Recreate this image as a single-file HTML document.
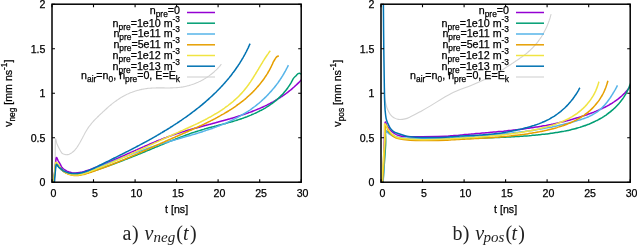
<!DOCTYPE html>
<html><head><meta charset="utf-8"><title>v_neg and v_pos</title>
<style>
html,body{margin:0;padding:0;background:#fff;}
body{width:637px;height:245px;overflow:hidden;}
svg{display:block;}
.tk{font-family:"Liberation Sans",Arial,sans-serif;font-size:10.6px;fill:#000;stroke:#000;stroke-width:0.25px;}
.lg{font-family:"Liberation Sans",Arial,sans-serif;font-size:10.7px;fill:#000;stroke:#000;stroke-width:0.25px;}
.sb{font-size:8.4px;}
.cap{font-family:"Liberation Serif","Times New Roman",serif;font-size:20px;fill:#222;}
.mi{font-style:italic;}
.mis{font-style:italic;font-size:15px;}
</style></head><body>
<svg width="637" height="245" viewBox="0 0 637 245">
<defs><clipPath id="cl"><rect x="52.0" y="4.2" width="249.2" height="178.0"/></clipPath>
<clipPath id="cr"><rect x="381.0" y="4.2" width="249.2" height="178.0"/></clipPath></defs>
<path d="M55.0,182.0 C55.0,178.3 55.1,167.1 55.2,160.0 C55.3,152.9 55.1,142.2 55.4,139.5 C55.7,136.8 56.3,142.4 57.0,144.0 C57.7,145.6 58.6,147.5 59.4,149.0 C60.2,150.5 61.2,152.2 61.9,153.1 C62.5,153.9 62.9,153.7 63.4,154.0 C63.9,154.2 64.4,154.4 64.9,154.5 C65.4,154.6 65.8,154.7 66.3,154.7 C66.8,154.7 67.3,154.6 67.7,154.6 C68.2,154.5 68.6,154.3 69.1,154.2 C69.5,154.0 70.0,153.8 70.4,153.6 C70.8,153.4 71.2,153.1 71.6,152.9 C72.0,152.6 72.4,152.3 72.8,152.0 C73.2,151.7 73.5,151.3 73.9,151.0 C74.3,150.7 74.6,150.3 75.0,149.9 C75.3,149.5 75.6,149.1 76.0,148.7 C76.3,148.3 76.6,147.9 76.9,147.5 C77.2,147.0 77.5,146.6 77.8,146.1 C78.1,145.7 78.4,145.2 78.7,144.7 C79.0,144.3 79.3,143.8 79.6,143.3 C79.8,142.8 80.1,142.3 80.4,141.8 C80.7,141.3 80.9,140.8 81.2,140.3 C81.5,139.8 81.7,139.3 82.0,138.8 C82.3,138.2 82.5,137.7 82.8,137.2 C83.0,136.7 83.3,136.2 83.6,135.7 C83.8,135.2 84.1,134.7 84.4,134.2 C84.6,133.7 84.9,133.2 85.2,132.7 C85.5,132.2 85.7,131.7 86.0,131.3 C86.3,130.8 86.6,130.3 86.8,129.9 C87.1,129.4 87.4,129.0 87.7,128.5 C88.0,128.1 88.3,127.6 88.6,127.2 C88.9,126.8 89.2,126.4 89.5,126.0 C89.8,125.6 90.1,125.2 90.5,124.8 C90.8,124.4 91.1,124.0 91.4,123.6 C91.7,123.2 92.1,122.8 92.4,122.4 C92.7,122.1 93.0,121.7 93.4,121.3 C93.7,120.9 94.1,120.6 94.4,120.2 C94.7,119.9 95.1,119.5 95.4,119.1 C95.8,118.8 96.1,118.4 96.5,118.1 C96.8,117.7 97.2,117.4 97.5,117.0 C97.9,116.7 98.3,116.3 98.6,116.0 C99.0,115.6 99.4,115.3 99.7,114.9 C100.1,114.6 100.5,114.2 100.8,113.9 C101.2,113.5 101.6,113.2 102.0,112.8 C102.3,112.5 102.7,112.1 103.1,111.7 C103.5,111.4 103.9,111.0 104.3,110.7 C104.6,110.3 105.0,110.0 105.4,109.6 C105.8,109.3 106.2,108.9 106.6,108.5 C107.0,108.2 107.4,107.8 107.8,107.5 C108.2,107.1 108.6,106.8 109.0,106.4 C109.4,106.1 109.8,105.7 110.2,105.4 C110.7,105.1 111.1,104.7 111.5,104.4 C111.9,104.0 112.3,103.7 112.7,103.4 C113.2,103.0 113.6,102.7 114.0,102.4 C114.4,102.1 114.9,101.7 115.3,101.4 C115.7,101.1 116.2,100.8 116.6,100.5 C117.0,100.2 117.5,99.9 117.9,99.6 C118.4,99.3 118.8,99.0 119.2,98.7 C119.7,98.4 120.1,98.1 120.6,97.8 C121.0,97.5 121.5,97.3 122.0,97.0 C122.4,96.7 122.9,96.5 123.3,96.2 C123.8,96.0 124.3,95.7 124.7,95.5 C125.2,95.2 125.7,95.0 126.1,94.8 C126.6,94.5 127.1,94.3 127.6,94.1 C128.0,93.9 128.5,93.6 129.0,93.4 C129.5,93.2 129.9,93.0 130.4,92.8 C130.9,92.6 131.4,92.4 131.9,92.3 C132.4,92.1 132.9,91.9 133.3,91.7 C133.8,91.5 134.3,91.4 134.8,91.2 C135.3,91.1 135.8,90.9 136.3,90.7 C136.8,90.6 137.3,90.5 137.8,90.3 C138.3,90.2 138.8,90.1 139.3,89.9 C139.8,89.8 140.3,89.7 140.8,89.6 C141.3,89.5 141.8,89.3 142.3,89.2 C142.9,89.1 143.4,89.1 143.9,89.0 C144.4,88.9 144.9,88.8 145.4,88.7 C145.9,88.6 146.4,88.6 147.0,88.5 C147.5,88.4 148.0,88.4 148.5,88.3 C149.0,88.3 149.5,88.2 150.1,88.2 C150.6,88.2 151.1,88.1 151.6,88.1 C152.1,88.1 152.7,88.0 153.2,88.0 C153.7,88.0 154.2,88.0 154.7,88.0 C155.3,88.0 155.8,87.9 156.3,87.9 C156.8,87.9 157.4,87.9 157.9,87.9 C158.4,87.9 158.9,87.9 159.5,87.9 C160.0,87.9 160.5,87.9 161.0,87.9 C161.6,87.9 162.1,87.9 162.6,87.9 C163.1,87.9 163.7,87.9 164.2,87.9 C164.7,87.9 165.2,88.0 165.8,88.0 C166.3,88.0 166.8,88.0 167.3,88.0 C167.9,88.0 168.4,88.0 168.9,88.0 C169.5,88.0 170.0,87.9 170.5,87.9 C171.0,87.9 171.6,87.9 172.1,87.9 C172.6,87.9 173.1,87.9 173.7,87.8 C174.2,87.8 174.7,87.8 175.2,87.8 C175.8,87.7 176.3,87.7 176.8,87.6 C177.3,87.6 177.9,87.6 178.4,87.5 C178.9,87.5 179.4,87.4 179.9,87.3 C180.5,87.3 181.0,87.2 181.5,87.1 C182.0,87.0 182.5,86.9 183.1,86.9 C183.6,86.8 184.1,86.7 184.6,86.6 C185.1,86.4 185.7,86.3 186.2,86.2 C186.7,86.1 187.2,86.0 187.7,85.8 C188.2,85.7 188.7,85.6 189.2,85.4 C189.7,85.3 190.2,85.1 190.7,85.0 C191.3,84.8 191.8,84.6 192.3,84.5 C192.8,84.3 193.3,84.1 193.7,84.0 C194.2,83.8 194.7,83.6 195.2,83.4 C195.7,83.2 196.2,83.0 196.7,82.8 C197.2,82.6 197.7,82.4 198.1,82.2 C198.6,81.9 199.1,81.7 199.6,81.5 C200.1,81.3 200.5,81.0 201.0,80.8 C201.5,80.5 201.9,80.3 202.4,80.0 C202.9,79.8 203.3,79.5 203.8,79.3 C204.2,79.0 204.7,78.7 205.1,78.5 C205.6,78.2 206.0,77.9 206.5,77.6 C206.9,77.4 207.4,77.1 207.8,76.8 C208.2,76.5 208.7,76.2 209.1,75.9 C209.5,75.6 209.9,75.3 210.3,74.9 C210.8,74.6 211.2,74.3 211.6,74.0 C212.0,73.7 212.4,73.3 212.8,73.0 C213.2,72.7 213.6,72.3 214.0,72.0 C214.4,71.6 214.7,71.3 215.1,70.9 C215.5,70.6 215.9,70.2 216.3,69.9 C216.6,69.5 217.0,69.1 217.3,68.8 C217.7,68.4 218.1,68.0 218.4,67.6 C218.8,67.2 219.1,66.9 219.4,66.5 C219.8,66.1 220.1,65.7 220.4,65.3 C220.7,64.9 221.2,64.3 221.4,64.1" stroke="#d2d2d2" stroke-width="1.1" fill="none" stroke-linejoin="round" clip-path="url(#cl)"/>
<path d="M53.6,182.0 C53.9,179.3 54.8,170.1 55.3,166.0 C55.8,161.9 55.8,158.5 56.3,157.6 C56.8,156.7 57.5,159.5 58.1,160.6 C58.8,161.7 59.5,163.0 60.2,164.2 C60.9,165.4 61.5,166.8 62.0,167.6 C62.6,168.3 63.1,168.5 63.6,169.0 C64.2,169.4 64.7,169.8 65.3,170.1 C65.8,170.5 66.4,170.8 66.9,171.1 C67.5,171.3 68.0,171.6 68.6,171.8 C69.2,172.0 69.7,172.2 70.3,172.3 C70.9,172.5 71.5,172.6 72.0,172.7 C72.6,172.8 73.2,172.9 73.8,172.9 C74.4,172.9 75.0,172.9 75.6,172.9 C76.1,172.9 76.7,172.9 77.3,172.8 C77.9,172.8 78.5,172.7 79.1,172.6 C79.7,172.5 80.3,172.4 80.9,172.3 C81.5,172.2 82.1,172.1 82.7,171.9 C83.3,171.7 83.9,171.6 84.5,171.4 C85.2,171.2 85.8,171.0 86.4,170.8 C87.0,170.6 87.6,170.4 88.2,170.2 C88.8,170.0 89.4,169.8 90.0,169.6 C90.6,169.4 91.2,169.1 91.8,168.9 C92.4,168.7 93.0,168.5 93.6,168.2 C94.2,168.0 94.8,167.8 95.4,167.5 C96.0,167.3 96.6,167.1 97.2,166.9 C97.8,166.6 98.4,166.4 99.0,166.1 C99.5,165.9 100.1,165.7 100.7,165.4 C101.3,165.2 101.9,165.0 102.5,164.7 C103.1,164.5 103.7,164.2 104.3,164.0 C104.8,163.7 105.4,163.5 106.0,163.3 C106.6,163.0 107.2,162.8 107.8,162.5 C108.4,162.3 108.9,162.0 109.5,161.8 C110.1,161.5 110.7,161.3 111.3,161.0 C111.8,160.8 112.4,160.5 113.0,160.3 C113.6,160.0 114.2,159.8 114.7,159.5 C115.3,159.3 115.9,159.0 116.5,158.8 C117.0,158.5 117.6,158.3 118.2,158.0 C118.8,157.8 119.3,157.5 119.9,157.3 C120.5,157.0 121.1,156.7 121.6,156.5 C122.2,156.2 122.8,156.0 123.4,155.7 C123.9,155.5 124.5,155.2 125.1,155.0 C125.7,154.7 126.2,154.4 126.8,154.2 C127.4,153.9 127.9,153.7 128.5,153.4 C129.1,153.2 129.7,152.9 130.2,152.7 C130.8,152.4 131.4,152.1 131.9,151.9 C132.5,151.6 133.1,151.4 133.7,151.1 C134.2,150.9 134.8,150.6 135.4,150.4 C135.9,150.1 136.5,149.8 137.1,149.6 C137.6,149.3 138.2,149.1 138.8,148.8 C139.4,148.6 139.9,148.3 140.5,148.1 C141.1,147.8 141.6,147.6 142.2,147.3 C142.8,147.1 143.4,146.8 143.9,146.6 C144.5,146.3 145.1,146.1 145.6,145.8 C146.2,145.6 146.8,145.3 147.4,145.1 C147.9,144.8 148.5,144.6 149.1,144.3 C149.7,144.1 150.2,143.9 150.8,143.6 C151.4,143.4 151.9,143.1 152.5,142.9 C153.1,142.7 153.7,142.4 154.2,142.2 C154.8,141.9 155.4,141.7 156.0,141.5 C156.6,141.2 157.1,141.0 157.7,140.8 C158.3,140.5 158.9,140.3 159.4,140.1 C160.0,139.8 160.6,139.6 161.2,139.4 C161.8,139.2 162.3,138.9 162.9,138.7 C163.5,138.5 164.1,138.3 164.7,138.0 C165.3,137.8 165.8,137.6 166.4,137.4 C167.0,137.2 167.6,136.9 168.2,136.7 C168.8,136.5 169.4,136.3 169.9,136.1 C170.5,135.9 171.1,135.7 171.7,135.5 C172.3,135.2 172.9,135.0 173.5,134.8 C174.1,134.6 174.7,134.4 175.3,134.2 C175.9,134.0 176.4,133.8 177.0,133.6 C177.6,133.4 178.2,133.2 178.8,133.1 C179.4,132.9 180.0,132.7 180.6,132.5 C181.2,132.3 181.8,132.1 182.4,131.9 C183.0,131.7 183.6,131.5 184.2,131.4 C184.8,131.2 185.4,131.0 186.0,130.8 C186.6,130.6 187.3,130.5 187.9,130.3 C188.5,130.1 189.1,129.9 189.7,129.8 C190.3,129.6 190.9,129.4 191.5,129.2 C192.1,129.1 192.7,128.9 193.3,128.7 C193.9,128.6 194.5,128.4 195.2,128.2 C195.8,128.0 196.4,127.9 197.0,127.7 C197.6,127.5 198.2,127.4 198.8,127.2 C199.4,127.0 200.0,126.9 200.7,126.7 C201.3,126.6 201.9,126.4 202.5,126.2 C203.1,126.1 203.7,125.9 204.3,125.7 C204.9,125.6 205.6,125.4 206.2,125.2 C206.8,125.1 207.4,124.9 208.0,124.8 C208.6,124.6 209.2,124.4 209.8,124.3 C210.5,124.1 211.1,123.9 211.7,123.8 C212.3,123.6 212.9,123.5 213.5,123.3 C214.1,123.1 214.7,123.0 215.4,122.8 C216.0,122.6 216.6,122.5 217.2,122.3 C217.8,122.1 218.4,122.0 219.0,121.8 C219.6,121.7 220.3,121.5 220.9,121.3 C221.5,121.2 222.1,121.0 222.7,120.8 C223.3,120.6 223.9,120.5 224.5,120.3 C225.1,120.1 225.8,120.0 226.4,119.8 C227.0,119.6 227.6,119.5 228.2,119.3 C228.8,119.1 229.4,118.9 230.0,118.8 C230.6,118.6 231.2,118.4 231.8,118.2 C232.4,118.0 233.0,117.9 233.6,117.7 C234.2,117.5 234.8,117.3 235.4,117.1 C236.0,116.9 236.6,116.8 237.2,116.6 C237.8,116.4 238.4,116.2 239.0,116.0 C239.6,115.8 240.2,115.6 240.8,115.4 C241.4,115.2 242.0,115.0 242.6,114.8 C243.2,114.6 243.8,114.4 244.4,114.2 C245.0,114.0 245.6,113.8 246.2,113.6 C246.8,113.4 247.4,113.2 248.0,113.0 C248.5,112.8 249.1,112.6 249.7,112.4 C250.3,112.1 250.9,111.9 251.5,111.7 C252.1,111.5 252.6,111.3 253.2,111.0 C253.8,110.8 254.4,110.6 255.0,110.3 C255.5,110.1 256.1,109.9 256.7,109.6 C257.3,109.4 257.8,109.2 258.4,108.9 C259.0,108.7 259.6,108.4 260.1,108.2 C260.7,107.9 261.3,107.7 261.8,107.4 C262.4,107.2 263.0,106.9 263.5,106.7 C264.1,106.4 264.7,106.1 265.2,105.9 C265.8,105.6 266.3,105.3 266.9,105.1 C267.4,104.8 268.0,104.5 268.5,104.2 C269.1,103.9 269.7,103.7 270.2,103.4 C270.8,103.1 271.3,102.8 271.8,102.5 C272.4,102.2 272.9,101.9 273.5,101.6 C274.0,101.3 274.6,101.0 275.1,100.7 C275.6,100.4 276.2,100.0 276.7,99.7 C277.2,99.4 277.8,99.1 278.3,98.7 C278.8,98.4 279.3,98.1 279.9,97.8 C280.4,97.4 280.9,97.1 281.4,96.7 C282.0,96.4 282.5,96.0 283.0,95.7 C283.5,95.3 284.0,95.0 284.5,94.6 C285.0,94.2 285.6,93.9 286.1,93.5 C286.6,93.1 287.1,92.7 287.6,92.4 C288.1,92.0 288.6,91.6 289.1,91.2 C289.6,90.8 290.1,90.4 290.6,90.0 C291.0,89.6 291.5,89.2 292.0,88.8 C292.5,88.4 293.0,88.0 293.5,87.5 C294.0,87.1 294.4,86.7 294.9,86.2 C295.4,85.8 295.9,85.4 296.3,84.9 C296.8,84.5 297.3,84.0 297.7,83.6 C298.2,83.1 298.7,82.7 299.1,82.2 C299.6,81.7 300.0,81.3 300.5,80.8 C300.9,80.3 301.6,79.6 301.8,79.3" stroke="#9400d3" stroke-width="1.5" fill="none" stroke-linejoin="round" clip-path="url(#cl)"/>
<path d="M53.8,182.0 C54.1,179.7 55.0,170.8 55.4,168.0 C55.8,165.2 55.8,165.3 56.3,165.0 C56.8,164.7 57.6,165.8 58.2,166.4 C58.7,166.9 59.2,167.6 59.7,168.1 C60.2,168.7 60.7,169.2 61.2,169.7 C61.8,170.2 62.3,170.6 62.9,171.0 C63.4,171.4 64.0,171.7 64.6,172.1 C65.1,172.4 65.7,172.7 66.3,172.9 C66.9,173.2 67.5,173.4 68.1,173.6 C68.7,173.8 69.3,173.9 70.0,174.1 C70.6,174.2 71.2,174.3 71.8,174.4 C72.5,174.5 73.1,174.5 73.8,174.5 C74.4,174.6 75.1,174.6 75.7,174.6 C76.4,174.5 77.0,174.5 77.7,174.5 C78.3,174.4 79.0,174.3 79.6,174.2 C80.3,174.1 81.0,174.0 81.6,173.9 C82.3,173.8 82.9,173.7 83.6,173.5 C84.3,173.4 84.9,173.2 85.6,173.1 C86.3,172.9 86.9,172.7 87.6,172.5 C88.3,172.3 88.9,172.2 89.6,172.0 C90.3,171.8 90.9,171.6 91.6,171.4 C92.3,171.2 92.9,171.0 93.6,170.8 C94.2,170.6 94.9,170.4 95.6,170.2 C96.2,170.0 96.9,169.7 97.5,169.5 C98.2,169.3 98.8,169.1 99.5,168.9 C100.1,168.7 100.8,168.5 101.5,168.3 C102.1,168.0 102.8,167.8 103.4,167.6 C104.1,167.4 104.7,167.2 105.4,166.9 C106.0,166.7 106.6,166.5 107.3,166.3 C107.9,166.0 108.6,165.8 109.2,165.6 C109.9,165.4 110.5,165.1 111.2,164.9 C111.8,164.7 112.4,164.4 113.1,164.2 C113.7,164.0 114.4,163.7 115.0,163.5 C115.7,163.3 116.3,163.0 116.9,162.8 C117.6,162.6 118.2,162.3 118.8,162.1 C119.5,161.8 120.1,161.6 120.7,161.3 C121.4,161.1 122.0,160.9 122.7,160.6 C123.3,160.4 123.9,160.1 124.6,159.9 C125.2,159.6 125.8,159.4 126.5,159.1 C127.1,158.9 127.7,158.6 128.3,158.4 C129.0,158.1 129.6,157.9 130.2,157.6 C130.9,157.4 131.5,157.1 132.1,156.9 C132.8,156.6 133.4,156.4 134.0,156.1 C134.6,155.9 135.3,155.6 135.9,155.4 C136.5,155.1 137.2,154.9 137.8,154.6 C138.4,154.4 139.0,154.1 139.7,153.8 C140.3,153.6 140.9,153.3 141.5,153.1 C142.2,152.8 142.8,152.5 143.4,152.3 C144.1,152.0 144.7,151.8 145.3,151.5 C145.9,151.3 146.6,151.0 147.2,150.7 C147.8,150.5 148.4,150.2 149.1,150.0 C149.7,149.7 150.3,149.4 150.9,149.2 C151.6,148.9 152.2,148.7 152.8,148.4 C153.4,148.1 154.1,147.9 154.7,147.6 C155.3,147.4 155.9,147.1 156.6,146.8 C157.2,146.6 157.8,146.3 158.4,146.1 C159.1,145.8 159.7,145.5 160.3,145.3 C160.9,145.0 161.6,144.8 162.2,144.5 C162.8,144.2 163.4,144.0 164.1,143.7 C164.7,143.5 165.3,143.2 165.9,142.9 C166.6,142.7 167.2,142.4 167.8,142.2 C168.5,141.9 169.1,141.7 169.7,141.4 C170.3,141.1 171.0,140.9 171.6,140.6 C172.2,140.4 172.9,140.1 173.5,139.9 C174.1,139.6 174.8,139.4 175.4,139.1 C176.0,138.9 176.6,138.6 177.3,138.4 C177.9,138.1 178.5,137.9 179.2,137.6 C179.8,137.4 180.4,137.2 181.1,136.9 C181.7,136.7 182.3,136.4 183.0,136.2 C183.6,136.0 184.2,135.7 184.9,135.5 C185.5,135.2 186.2,135.0 186.8,134.8 C187.4,134.6 188.1,134.3 188.7,134.1 C189.3,133.9 190.0,133.6 190.6,133.4 C191.3,133.2 191.9,133.0 192.5,132.8 C193.2,132.5 193.8,132.3 194.5,132.1 C195.1,131.9 195.8,131.7 196.4,131.5 C197.0,131.3 197.7,131.1 198.3,130.9 C199.0,130.7 199.6,130.5 200.3,130.3 C200.9,130.1 201.6,129.9 202.2,129.7 C202.9,129.5 203.5,129.3 204.2,129.1 C204.8,128.9 205.5,128.8 206.1,128.6 C206.8,128.4 207.4,128.2 208.1,128.0 C208.7,127.9 209.4,127.7 210.0,127.5 C210.7,127.3 211.4,127.2 212.0,127.0 C212.7,126.8 213.3,126.6 214.0,126.5 C214.6,126.3 215.3,126.1 215.9,126.0 C216.6,125.8 217.3,125.6 217.9,125.4 C218.6,125.3 219.2,125.1 219.9,124.9 C220.5,124.8 221.2,124.6 221.8,124.4 C222.5,124.2 223.2,124.1 223.8,123.9 C224.5,123.7 225.1,123.5 225.8,123.4 C226.4,123.2 227.1,123.0 227.7,122.8 C228.4,122.7 229.1,122.5 229.7,122.3 C230.4,122.1 231.0,121.9 231.7,121.7 C232.3,121.5 233.0,121.4 233.6,121.2 C234.3,121.0 234.9,120.8 235.6,120.6 C236.2,120.4 236.9,120.2 237.5,120.0 C238.2,119.8 238.8,119.5 239.5,119.3 C240.1,119.1 240.8,118.9 241.4,118.7 C242.1,118.5 242.7,118.2 243.4,118.0 C244.0,117.8 244.7,117.5 245.3,117.3 C245.9,117.1 246.6,116.8 247.2,116.6 C247.9,116.3 248.5,116.1 249.1,115.8 C249.8,115.6 250.4,115.3 251.0,115.1 C251.6,114.8 252.3,114.5 252.9,114.3 C253.5,114.0 254.1,113.7 254.8,113.4 C255.4,113.1 256.0,112.9 256.6,112.6 C257.2,112.3 257.8,112.0 258.4,111.7 C259.0,111.4 259.7,111.1 260.3,110.7 C260.9,110.4 261.5,110.1 262.0,109.8 C262.6,109.5 263.2,109.1 263.8,108.8 C264.4,108.5 265.0,108.1 265.6,107.8 C266.1,107.4 266.7,107.1 267.3,106.7 C267.8,106.4 268.4,106.0 269.0,105.6 C269.5,105.2 270.1,104.9 270.6,104.5 C271.2,104.1 271.7,103.7 272.3,103.3 C272.8,102.9 273.3,102.5 273.9,102.1 C274.4,101.7 274.9,101.3 275.5,100.9 C276.0,100.4 276.5,100.0 277.0,99.6 C277.5,99.1 278.0,98.7 278.5,98.2 C279.0,97.8 279.5,97.3 280.0,96.8 C280.4,96.4 280.9,95.9 281.4,95.4 C281.9,94.9 282.3,94.5 282.8,94.0 C283.2,93.5 283.7,93.0 284.1,92.4 C284.6,91.9 285.0,91.4 285.4,90.9 C285.9,90.4 286.3,89.8 286.7,89.3 C287.1,88.7 287.5,88.2 287.9,87.6 C288.3,87.1 288.7,86.5 289.1,85.9 C289.5,85.3 289.9,84.8 290.2,84.2 C290.6,83.6 290.9,83.0 291.3,82.4 C291.6,81.7 292.0,81.1 292.3,80.5 C292.7,79.9 292.7,79.4 293.3,78.6 C293.9,77.8 295.3,76.5 296.1,75.7 C296.9,74.9 297.5,74.1 298.1,73.7 C298.8,73.3 299.4,73.3 300.0,73.4 C300.6,73.5 301.2,74.1 301.4,74.2" stroke="#009e73" stroke-width="1.5" fill="none" stroke-linejoin="round" clip-path="url(#cl)"/>
<path d="M53.7,182.0 C54.0,179.5 55.0,170.1 55.4,167.0 C55.8,163.9 55.8,163.8 56.3,163.5 C56.8,163.2 57.8,164.8 58.3,165.4 C58.9,166.0 59.1,166.5 59.6,167.1 C60.0,167.6 60.5,168.1 61.0,168.6 C61.4,169.1 62.0,169.5 62.5,169.9 C63.0,170.3 63.5,170.7 64.1,171.1 C64.6,171.5 65.2,171.8 65.8,172.1 C66.4,172.4 67.0,172.7 67.6,172.9 C68.2,173.1 68.8,173.4 69.4,173.5 C70.0,173.7 70.7,173.9 71.3,174.0 C71.9,174.1 72.6,174.2 73.2,174.3 C73.9,174.4 74.5,174.4 75.2,174.4 C75.8,174.4 76.4,174.4 77.1,174.4 C77.7,174.3 78.4,174.2 79.0,174.1 C79.7,174.0 80.3,173.9 80.9,173.8 C81.6,173.6 82.2,173.5 82.8,173.3 C83.5,173.1 84.1,172.9 84.8,172.7 C85.4,172.5 86.0,172.2 86.7,172.0 C87.3,171.8 87.9,171.5 88.6,171.3 C89.2,171.0 89.8,170.8 90.5,170.5 C91.1,170.3 91.7,170.0 92.3,169.8 C93.0,169.5 93.6,169.3 94.2,169.0 C94.9,168.7 95.5,168.5 96.1,168.2 C96.7,168.0 97.4,167.7 98.0,167.5 C98.6,167.2 99.2,167.0 99.9,166.7 C100.5,166.4 101.1,166.2 101.7,165.9 C102.3,165.7 103.0,165.4 103.6,165.2 C104.2,164.9 104.8,164.7 105.4,164.4 C106.1,164.2 106.7,163.9 107.3,163.7 C107.9,163.4 108.5,163.2 109.1,162.9 C109.8,162.7 110.4,162.4 111.0,162.2 C111.6,162.0 112.2,161.7 112.8,161.5 C113.5,161.2 114.1,161.0 114.7,160.7 C115.3,160.5 115.9,160.2 116.5,160.0 C117.2,159.8 117.8,159.5 118.4,159.3 C119.0,159.0 119.6,158.8 120.2,158.6 C120.8,158.3 121.5,158.1 122.1,157.8 C122.7,157.6 123.3,157.4 123.9,157.1 C124.5,156.9 125.1,156.6 125.7,156.4 C126.4,156.2 127.0,155.9 127.6,155.7 C128.2,155.5 128.8,155.2 129.4,155.0 C130.0,154.8 130.7,154.5 131.3,154.3 C131.9,154.1 132.5,153.9 133.1,153.6 C133.7,153.4 134.3,153.2 135.0,152.9 C135.6,152.7 136.2,152.5 136.8,152.3 C137.4,152.0 138.0,151.8 138.7,151.6 C139.3,151.4 139.9,151.1 140.5,150.9 C141.1,150.7 141.7,150.5 142.4,150.3 C143.0,150.0 143.6,149.8 144.2,149.6 C144.8,149.4 145.4,149.2 146.1,149.0 C146.7,148.7 147.3,148.5 147.9,148.3 C148.6,148.1 149.2,147.9 149.8,147.7 C150.4,147.5 151.0,147.3 151.7,147.0 C152.3,146.8 152.9,146.6 153.5,146.4 C154.2,146.2 154.8,146.0 155.4,145.8 C156.0,145.6 156.7,145.4 157.3,145.2 C157.9,145.0 158.5,144.8 159.2,144.6 C159.8,144.4 160.4,144.2 161.1,144.0 C161.7,143.8 162.3,143.6 163.0,143.4 C163.6,143.2 164.2,143.0 164.9,142.8 C165.5,142.6 166.1,142.4 166.8,142.2 C167.4,142.0 168.1,141.9 168.7,141.7 C169.3,141.5 170.0,141.3 170.6,141.1 C171.2,140.9 171.9,140.7 172.5,140.5 C173.2,140.3 173.8,140.2 174.4,140.0 C175.1,139.8 175.7,139.6 176.4,139.4 C177.0,139.2 177.7,139.0 178.3,138.9 C178.9,138.7 179.6,138.5 180.2,138.3 C180.9,138.1 181.5,137.9 182.2,137.7 C182.8,137.6 183.4,137.4 184.1,137.2 C184.7,137.0 185.4,136.8 186.0,136.6 C186.7,136.4 187.3,136.2 187.9,136.1 C188.6,135.9 189.2,135.7 189.9,135.5 C190.5,135.3 191.2,135.1 191.8,134.9 C192.4,134.7 193.1,134.5 193.7,134.3 C194.4,134.2 195.0,134.0 195.7,133.8 C196.3,133.6 196.9,133.4 197.6,133.2 C198.2,133.0 198.9,132.8 199.5,132.6 C200.1,132.4 200.8,132.2 201.4,132.0 C202.0,131.8 202.7,131.6 203.3,131.4 C204.0,131.2 204.6,131.0 205.2,130.8 C205.9,130.5 206.5,130.3 207.1,130.1 C207.8,129.9 208.4,129.7 209.0,129.5 C209.6,129.3 210.3,129.1 210.9,128.8 C211.5,128.6 212.2,128.4 212.8,128.2 C213.4,127.9 214.0,127.7 214.7,127.5 C215.3,127.3 215.9,127.0 216.5,126.8 C217.2,126.6 217.8,126.3 218.4,126.1 C219.0,125.9 219.6,125.6 220.2,125.4 C220.9,125.1 221.5,124.9 222.1,124.6 C222.7,124.4 223.3,124.1 223.9,123.9 C224.5,123.6 225.1,123.4 225.7,123.1 C226.3,122.8 227.0,122.6 227.6,122.3 C228.2,122.0 228.8,121.8 229.4,121.5 C230.0,121.2 230.6,121.0 231.1,120.7 C231.7,120.4 232.3,120.1 232.9,119.8 C233.5,119.5 234.1,119.2 234.7,118.9 C235.3,118.6 235.9,118.4 236.4,118.0 C237.0,117.7 237.6,117.4 238.2,117.1 C238.8,116.8 239.3,116.5 239.9,116.2 C240.5,115.9 241.1,115.5 241.6,115.2 C242.2,114.9 242.8,114.6 243.3,114.2 C243.9,113.9 244.4,113.5 245.0,113.2 C245.6,112.9 246.1,112.5 246.7,112.2 C247.2,111.8 247.8,111.4 248.3,111.1 C248.9,110.7 249.4,110.4 250.0,110.0 C250.5,109.6 251.0,109.2 251.6,108.8 C252.1,108.5 252.7,108.1 253.2,107.7 C253.7,107.3 254.2,106.9 254.8,106.5 C255.3,106.1 255.8,105.7 256.3,105.3 C256.8,104.9 257.4,104.5 257.9,104.0 C258.4,103.6 258.9,103.2 259.4,102.8 C259.9,102.3 260.4,101.9 260.9,101.5 C261.4,101.0 261.9,100.6 262.4,100.1 C262.9,99.7 263.4,99.2 263.8,98.8 C264.3,98.3 264.8,97.9 265.3,97.4 C265.8,96.9 266.2,96.5 266.7,96.0 C267.2,95.5 267.6,95.1 268.1,94.6 C268.5,94.1 269.0,93.6 269.4,93.1 C269.9,92.6 270.3,92.1 270.8,91.6 C271.2,91.2 271.7,90.7 272.1,90.1 C272.5,89.6 273.0,89.1 273.4,88.6 C273.8,88.1 274.2,87.6 274.7,87.1 C275.1,86.6 275.5,86.0 275.9,85.5 C276.3,85.0 276.7,84.5 277.1,83.9 C277.5,83.4 277.9,82.9 278.3,82.3 C278.7,81.8 279.1,81.2 279.4,80.7 C279.8,80.1 280.2,79.6 280.5,79.0 C280.9,78.5 281.3,77.9 281.6,77.4 C282.0,76.8 282.3,76.2 282.7,75.7 C283.0,75.1 283.4,74.5 283.7,74.0 C284.1,73.4 284.4,72.8 284.7,72.2 C285.0,71.7 285.4,71.1 285.7,70.5 C286.0,69.9 286.3,69.3 286.6,68.7 C286.9,68.2 287.2,67.6 287.5,67.0 C287.8,66.4 288.2,65.5 288.4,65.2" stroke="#56b4e9" stroke-width="1.5" fill="none" stroke-linejoin="round" clip-path="url(#cl)"/>
<path d="M53.7,182.0 C54.0,179.3 55.0,169.2 55.4,166.0 C55.8,162.8 55.7,162.6 56.2,162.5 C56.7,162.4 57.9,164.5 58.5,165.3 C59.0,166.0 59.2,166.5 59.6,167.0 C59.9,167.6 60.3,168.1 60.8,168.6 C61.2,169.1 61.6,169.6 62.0,170.0 C62.5,170.5 63.0,170.9 63.4,171.3 C63.9,171.6 64.4,172.0 64.9,172.3 C65.4,172.7 65.9,173.0 66.4,173.2 C66.9,173.5 67.5,173.8 68.0,174.0 C68.5,174.2 69.1,174.4 69.7,174.6 C70.2,174.7 70.8,174.9 71.3,175.0 C71.9,175.1 72.5,175.2 73.1,175.3 C73.6,175.4 74.2,175.4 74.8,175.5 C75.4,175.5 76.0,175.5 76.6,175.5 C77.2,175.5 77.7,175.4 78.3,175.4 C78.9,175.3 79.5,175.3 80.1,175.2 C80.7,175.1 81.3,175.0 81.9,174.8 C82.5,174.7 83.1,174.6 83.7,174.4 C84.3,174.3 84.9,174.1 85.5,174.0 C86.1,173.8 86.7,173.6 87.3,173.4 C87.9,173.2 88.5,173.1 89.0,172.9 C89.6,172.7 90.2,172.5 90.8,172.3 C91.4,172.1 92.0,171.8 92.6,171.6 C93.2,171.4 93.8,171.2 94.4,171.0 C95.0,170.8 95.5,170.6 96.1,170.4 C96.7,170.2 97.3,170.0 97.9,169.8 C98.5,169.5 99.1,169.3 99.6,169.1 C100.2,168.9 100.8,168.7 101.4,168.5 C102.0,168.3 102.5,168.0 103.1,167.8 C103.7,167.6 104.3,167.4 104.9,167.2 C105.4,167.0 106.0,166.7 106.6,166.5 C107.2,166.3 107.7,166.1 108.3,165.8 C108.9,165.6 109.4,165.4 110.0,165.2 C110.6,165.0 111.2,164.7 111.7,164.5 C112.3,164.3 112.9,164.1 113.4,163.8 C114.0,163.6 114.6,163.4 115.1,163.1 C115.7,162.9 116.3,162.7 116.8,162.5 C117.4,162.2 118.0,162.0 118.5,161.8 C119.1,161.5 119.7,161.3 120.2,161.1 C120.8,160.8 121.3,160.6 121.9,160.4 C122.5,160.2 123.0,159.9 123.6,159.7 C124.1,159.4 124.7,159.2 125.3,159.0 C125.8,158.7 126.4,158.5 126.9,158.3 C127.5,158.0 128.1,157.8 128.6,157.6 C129.2,157.3 129.7,157.1 130.3,156.8 C130.9,156.6 131.4,156.4 132.0,156.1 C132.5,155.9 133.1,155.7 133.6,155.4 C134.2,155.2 134.7,154.9 135.3,154.7 C135.9,154.4 136.4,154.2 137.0,154.0 C137.5,153.7 138.1,153.5 138.6,153.2 C139.2,153.0 139.7,152.8 140.3,152.5 C140.8,152.3 141.4,152.0 141.9,151.8 C142.5,151.5 143.1,151.3 143.6,151.0 C144.2,150.8 144.7,150.6 145.3,150.3 C145.8,150.1 146.4,149.8 146.9,149.6 C147.5,149.3 148.0,149.1 148.6,148.8 C149.1,148.6 149.7,148.3 150.2,148.1 C150.8,147.9 151.3,147.6 151.9,147.4 C152.5,147.1 153.0,146.9 153.6,146.6 C154.1,146.4 154.7,146.1 155.2,145.9 C155.8,145.6 156.3,145.4 156.9,145.1 C157.4,144.9 158.0,144.6 158.5,144.4 C159.1,144.1 159.7,143.9 160.2,143.7 C160.8,143.4 161.3,143.2 161.9,142.9 C162.4,142.7 163.0,142.4 163.5,142.2 C164.1,141.9 164.7,141.7 165.2,141.4 C165.8,141.2 166.3,140.9 166.9,140.7 C167.4,140.4 168.0,140.2 168.6,139.9 C169.1,139.7 169.7,139.4 170.2,139.2 C170.8,138.9 171.4,138.7 171.9,138.4 C172.5,138.2 173.0,137.9 173.6,137.7 C174.2,137.5 174.7,137.2 175.3,137.0 C175.8,136.7 176.4,136.5 177.0,136.2 C177.5,136.0 178.1,135.7 178.7,135.5 C179.2,135.2 179.8,135.0 180.4,134.7 C180.9,134.5 181.5,134.2 182.1,134.0 C182.6,133.7 183.2,133.5 183.8,133.3 C184.3,133.0 184.9,132.8 185.5,132.5 C186.0,132.3 186.6,132.0 187.1,131.8 C187.7,131.5 188.3,131.3 188.8,131.0 C189.4,130.8 190.0,130.5 190.5,130.3 C191.1,130.0 191.7,129.8 192.2,129.5 C192.8,129.3 193.4,129.0 193.9,128.7 C194.5,128.5 195.1,128.2 195.6,128.0 C196.2,127.7 196.8,127.5 197.3,127.2 C197.9,127.0 198.4,126.7 199.0,126.4 C199.6,126.2 200.1,125.9 200.7,125.7 C201.3,125.4 201.8,125.1 202.4,124.9 C202.9,124.6 203.5,124.3 204.1,124.1 C204.6,123.8 205.2,123.5 205.7,123.3 C206.3,123.0 206.8,122.7 207.4,122.5 C207.9,122.2 208.5,121.9 209.1,121.6 C209.6,121.4 210.2,121.1 210.7,120.8 C211.3,120.5 211.8,120.3 212.4,120.0 C212.9,119.7 213.5,119.4 214.0,119.1 C214.5,118.9 215.1,118.6 215.6,118.3 C216.2,118.0 216.7,117.7 217.3,117.4 C217.8,117.1 218.3,116.8 218.9,116.5 C219.4,116.2 219.9,115.9 220.5,115.6 C221.0,115.4 221.5,115.1 222.1,114.7 C222.6,114.4 223.1,114.1 223.7,113.8 C224.2,113.5 224.7,113.2 225.2,112.9 C225.8,112.6 226.3,112.3 226.8,112.0 C227.3,111.7 227.9,111.3 228.4,111.0 C228.9,110.7 229.4,110.4 229.9,110.0 C230.4,109.7 230.9,109.4 231.4,109.1 C231.9,108.7 232.5,108.4 233.0,108.1 C233.5,107.7 234.0,107.4 234.5,107.1 C235.0,106.7 235.5,106.4 236.0,106.0 C236.4,105.7 236.9,105.3 237.4,105.0 C237.9,104.6 238.4,104.3 238.9,103.9 C239.4,103.6 239.9,103.2 240.3,102.8 C240.8,102.5 241.3,102.1 241.8,101.7 C242.2,101.4 242.7,101.0 243.2,100.6 C243.7,100.2 244.1,99.9 244.6,99.5 C245.0,99.1 245.5,98.7 246.0,98.3 C246.4,97.9 246.9,97.5 247.3,97.1 C247.8,96.7 248.2,96.3 248.7,95.9 C249.1,95.5 249.6,95.1 250.0,94.7 C250.4,94.3 250.9,93.9 251.3,93.5 C251.7,93.1 252.2,92.6 252.6,92.2 C253.0,91.8 253.4,91.4 253.9,90.9 C254.3,90.5 254.7,90.1 255.1,89.6 C255.5,89.2 255.9,88.7 256.3,88.3 C256.7,87.8 257.1,87.4 257.5,86.9 C257.9,86.5 258.3,86.0 258.7,85.5 C259.1,85.1 259.5,84.6 259.9,84.1 C260.3,83.7 260.7,83.2 261.0,82.7 C261.4,82.2 261.8,81.7 262.1,81.3 C262.5,80.8 262.9,80.3 263.2,79.8 C263.6,79.3 264.0,78.8 264.3,78.3 C264.7,77.8 265.0,77.2 265.3,76.7 C265.7,76.2 266.0,75.7 266.4,75.2 C266.7,74.6 267.0,74.1 267.4,73.6 C267.7,73.0 268.0,72.5 268.3,72.0 C268.6,71.4 269.0,70.9 269.3,70.3 C269.6,69.8 269.9,69.2 270.2,68.6 C270.5,68.1 270.8,67.5 271.1,66.9 C271.4,66.3 271.6,65.8 271.9,65.2 C272.2,64.6 272.5,64.0 272.7,63.4 C273.0,62.8 273.0,62.5 273.5,61.6 C274.1,60.7 275.2,58.8 275.8,57.9 C276.4,57.0 276.7,56.8 277.2,56.5 C277.7,56.2 278.6,56.1 278.9,56.0" stroke="#e69f00" stroke-width="1.5" fill="none" stroke-linejoin="round" clip-path="url(#cl)"/>
<path d="M53.7,182.0 C54.0,179.2 55.0,168.3 55.4,165.0 C55.8,161.7 55.6,162.4 56.1,162.4 C56.6,162.4 57.9,164.1 58.5,164.8 C59.1,165.5 59.2,166.0 59.6,166.6 C59.9,167.1 60.3,167.7 60.7,168.2 C61.1,168.7 61.6,169.1 62.0,169.6 C62.5,170.0 62.9,170.5 63.4,170.9 C63.9,171.2 64.4,171.6 64.9,171.9 C65.4,172.3 65.9,172.6 66.5,172.9 C67.0,173.2 67.5,173.4 68.1,173.6 C68.7,173.9 69.2,174.1 69.8,174.2 C70.4,174.4 70.9,174.6 71.5,174.7 C72.1,174.8 72.7,174.9 73.3,175.0 C73.9,175.0 74.5,175.1 75.1,175.1 C75.7,175.1 76.3,175.1 76.9,175.1 C77.5,175.0 78.1,175.0 78.6,174.9 C79.2,174.8 79.8,174.7 80.4,174.6 C81.0,174.5 81.6,174.4 82.2,174.2 C82.8,174.1 83.4,173.9 84.0,173.7 C84.6,173.5 85.2,173.3 85.8,173.1 C86.4,172.9 87.0,172.7 87.6,172.5 C88.2,172.3 88.8,172.1 89.4,171.8 C90.0,171.6 90.6,171.4 91.2,171.1 C91.8,170.9 92.3,170.6 92.9,170.4 C93.5,170.2 94.1,169.9 94.7,169.7 C95.3,169.5 95.9,169.2 96.5,169.0 C97.0,168.7 97.6,168.5 98.2,168.3 C98.8,168.0 99.4,167.8 100.0,167.5 C100.6,167.3 101.1,167.0 101.7,166.8 C102.3,166.6 102.9,166.3 103.5,166.1 C104.0,165.8 104.6,165.6 105.2,165.3 C105.8,165.1 106.3,164.8 106.9,164.6 C107.5,164.4 108.1,164.1 108.6,163.9 C109.2,163.6 109.8,163.4 110.4,163.1 C110.9,162.9 111.5,162.6 112.1,162.4 C112.7,162.1 113.2,161.9 113.8,161.6 C114.4,161.4 114.9,161.1 115.5,160.9 C116.1,160.6 116.7,160.4 117.2,160.1 C117.8,159.9 118.4,159.6 118.9,159.4 C119.5,159.1 120.1,158.9 120.6,158.6 C121.2,158.4 121.8,158.1 122.3,157.8 C122.9,157.6 123.5,157.3 124.0,157.1 C124.6,156.8 125.1,156.6 125.7,156.3 C126.3,156.1 126.8,155.8 127.4,155.6 C128.0,155.3 128.5,155.1 129.1,154.8 C129.7,154.5 130.2,154.3 130.8,154.0 C131.3,153.8 131.9,153.5 132.5,153.3 C133.0,153.0 133.6,152.7 134.1,152.5 C134.7,152.2 135.3,152.0 135.8,151.7 C136.4,151.5 137.0,151.2 137.5,150.9 C138.1,150.7 138.6,150.4 139.2,150.2 C139.8,149.9 140.3,149.7 140.9,149.4 C141.4,149.1 142.0,148.9 142.5,148.6 C143.1,148.4 143.7,148.1 144.2,147.8 C144.8,147.6 145.3,147.3 145.9,147.1 C146.5,146.8 147.0,146.6 147.6,146.3 C148.1,146.0 148.7,145.8 149.3,145.5 C149.8,145.3 150.4,145.0 150.9,144.7 C151.5,144.5 152.1,144.2 152.6,144.0 C153.2,143.7 153.7,143.5 154.3,143.2 C154.9,142.9 155.4,142.7 156.0,142.4 C156.5,142.2 157.1,141.9 157.7,141.6 C158.2,141.4 158.8,141.1 159.3,140.9 C159.9,140.6 160.5,140.3 161.0,140.1 C161.6,139.8 162.2,139.6 162.7,139.3 C163.3,139.1 163.8,138.8 164.4,138.5 C165.0,138.3 165.5,138.0 166.1,137.8 C166.7,137.5 167.2,137.2 167.8,137.0 C168.3,136.7 168.9,136.5 169.5,136.2 C170.0,136.0 170.6,135.7 171.2,135.4 C171.7,135.2 172.3,134.9 172.9,134.7 C173.4,134.4 174.0,134.2 174.6,133.9 C175.1,133.7 175.7,133.4 176.3,133.1 C176.9,132.9 177.4,132.6 178.0,132.4 C178.6,132.1 179.1,131.9 179.7,131.6 C180.3,131.4 180.8,131.1 181.4,130.8 C182.0,130.6 182.6,130.3 183.1,130.1 C183.7,129.8 184.3,129.6 184.8,129.3 C185.4,129.1 186.0,128.8 186.6,128.5 C187.1,128.3 187.7,128.0 188.3,127.8 C188.8,127.5 189.4,127.2 190.0,127.0 C190.5,126.7 191.1,126.5 191.7,126.2 C192.2,125.9 192.8,125.7 193.4,125.4 C193.9,125.1 194.5,124.9 195.1,124.6 C195.6,124.3 196.2,124.1 196.8,123.8 C197.3,123.5 197.9,123.3 198.5,123.0 C199.0,122.7 199.6,122.4 200.1,122.2 C200.7,121.9 201.3,121.6 201.8,121.3 C202.4,121.0 202.9,120.8 203.5,120.5 C204.0,120.2 204.6,119.9 205.2,119.6 C205.7,119.3 206.3,119.1 206.8,118.8 C207.4,118.5 207.9,118.2 208.4,117.9 C209.0,117.6 209.5,117.3 210.1,117.0 C210.6,116.7 211.2,116.4 211.7,116.1 C212.2,115.8 212.8,115.5 213.3,115.2 C213.9,114.9 214.4,114.6 214.9,114.2 C215.4,113.9 216.0,113.6 216.5,113.3 C217.0,113.0 217.6,112.6 218.1,112.3 C218.6,112.0 219.1,111.7 219.6,111.3 C220.2,111.0 220.7,110.7 221.2,110.3 C221.7,110.0 222.2,109.7 222.7,109.3 C223.2,109.0 223.7,108.6 224.2,108.3 C224.7,107.9 225.2,107.6 225.7,107.2 C226.2,106.8 226.7,106.5 227.2,106.1 C227.7,105.8 228.2,105.4 228.7,105.0 C229.2,104.6 229.6,104.3 230.1,103.9 C230.6,103.5 231.1,103.1 231.6,102.7 C232.0,102.3 232.5,101.9 233.0,101.6 C233.4,101.2 233.9,100.8 234.3,100.3 C234.8,99.9 235.3,99.5 235.7,99.1 C236.2,98.7 236.6,98.3 237.1,97.9 C237.5,97.4 237.9,97.0 238.4,96.6 C238.8,96.2 239.3,95.7 239.7,95.3 C240.1,94.8 240.5,94.4 241.0,93.9 C241.4,93.5 241.8,93.0 242.2,92.6 C242.6,92.1 243.0,91.6 243.4,91.2 C243.8,90.7 244.2,90.2 244.6,89.7 C245.0,89.3 245.4,88.8 245.8,88.3 C246.2,87.8 246.6,87.3 247.0,86.8 C247.3,86.3 247.7,85.8 248.1,85.3 C248.5,84.8 248.8,84.2 249.2,83.7 C249.5,83.2 249.9,82.7 250.3,82.1 C250.6,81.6 251.0,81.1 251.3,80.6 C251.7,80.0 252.0,79.5 252.4,79.0 C252.7,78.4 253.1,77.9 253.4,77.3 C253.7,76.8 254.1,76.3 254.4,75.7 C254.7,75.2 255.1,74.6 255.4,74.1 C255.7,73.5 256.1,73.0 256.4,72.4 C256.7,71.9 257.1,71.3 257.4,70.8 C257.7,70.3 258.0,69.7 258.4,69.2 C258.7,68.6 259.0,68.1 259.3,67.5 C259.7,67.0 260.0,66.4 260.3,65.9 C260.6,65.4 261.0,64.8 261.3,64.3 C261.6,63.8 261.9,63.2 262.3,62.7 C262.6,62.2 262.9,61.6 263.2,61.1 C263.6,60.6 263.9,60.1 264.2,59.5 C264.5,59.0 264.9,58.5 265.2,58.0 C265.5,57.5 265.9,57.0 266.2,56.5 C266.5,56.0 266.9,55.5 267.2,55.0 C267.5,54.5 267.9,54.0 268.2,53.6 C268.5,53.1 268.9,52.6 269.2,52.1 C269.6,51.7 270.1,51.0 270.3,50.8" stroke="#f0e442" stroke-width="1.5" fill="none" stroke-linejoin="round" clip-path="url(#cl)"/>
<path d="M54.4,182.0 C54.5,180.3 55.0,174.9 55.3,172.0 C55.6,169.1 55.7,165.8 56.1,164.7 C56.5,163.6 57.1,164.9 57.6,165.4 C58.1,165.9 58.5,166.9 59.1,167.5 C59.7,168.1 60.5,168.3 61.2,168.8 C61.9,169.3 62.5,170.1 63.0,170.6 C63.6,171.0 64.0,171.1 64.5,171.3 C65.0,171.5 65.5,171.8 65.9,171.9 C66.4,172.1 66.9,172.3 67.4,172.5 C67.9,172.6 68.3,172.8 68.8,172.9 C69.3,173.0 69.8,173.1 70.3,173.2 C70.8,173.3 71.2,173.4 71.7,173.4 C72.2,173.5 72.7,173.5 73.2,173.6 C73.6,173.6 74.1,173.6 74.6,173.6 C75.1,173.6 75.6,173.6 76.0,173.6 C76.5,173.5 77.0,173.5 77.5,173.5 C78.0,173.4 78.4,173.3 78.9,173.3 C79.4,173.2 79.9,173.1 80.3,173.0 C80.8,172.9 81.3,172.8 81.8,172.7 C82.3,172.6 82.7,172.5 83.2,172.3 C83.7,172.2 84.2,172.1 84.6,171.9 C85.1,171.8 85.6,171.6 86.1,171.4 C86.6,171.3 87.0,171.1 87.5,170.9 C88.0,170.7 88.5,170.6 88.9,170.4 C89.4,170.2 89.9,170.0 90.4,169.8 C90.8,169.6 91.3,169.4 91.8,169.1 C92.3,168.9 92.7,168.7 93.2,168.5 C93.7,168.3 94.2,168.1 94.6,167.8 C95.1,167.6 95.6,167.4 96.1,167.1 C96.5,166.9 97.0,166.7 97.5,166.4 C97.9,166.2 98.4,166.0 98.9,165.7 C99.4,165.5 99.8,165.3 100.3,165.0 C100.8,164.8 101.3,164.6 101.7,164.3 C102.2,164.1 102.7,163.9 103.1,163.6 C103.6,163.4 104.1,163.2 104.5,162.9 C105.0,162.7 105.5,162.5 106.0,162.2 C106.4,162.0 106.9,161.8 107.4,161.5 C107.8,161.3 108.3,161.1 108.8,160.8 C109.2,160.6 109.7,160.4 110.2,160.1 C110.6,159.9 111.1,159.7 111.6,159.4 C112.1,159.2 112.5,159.0 113.0,158.7 C113.5,158.5 113.9,158.3 114.4,158.0 C114.9,157.8 115.3,157.6 115.8,157.3 C116.2,157.1 116.7,156.9 117.2,156.6 C117.6,156.4 118.1,156.2 118.6,155.9 C119.0,155.7 119.5,155.5 120.0,155.2 C120.4,155.0 120.9,154.8 121.4,154.5 C121.8,154.3 122.3,154.1 122.7,153.8 C123.2,153.6 123.7,153.4 124.1,153.1 C124.6,152.9 125.1,152.7 125.5,152.4 C126.0,152.2 126.4,152.0 126.9,151.7 C127.4,151.5 127.8,151.2 128.3,151.0 C128.7,150.8 129.2,150.5 129.6,150.3 C130.1,150.1 130.6,149.8 131.0,149.6 C131.5,149.4 131.9,149.1 132.4,148.9 C132.9,148.6 133.3,148.4 133.8,148.2 C134.2,147.9 134.7,147.7 135.1,147.5 C135.6,147.2 136.0,147.0 136.5,146.7 C137.0,146.5 137.4,146.3 137.9,146.0 C138.3,145.8 138.8,145.5 139.2,145.3 C139.7,145.1 140.1,144.8 140.6,144.6 C141.0,144.3 141.5,144.1 141.9,143.8 C142.4,143.6 142.8,143.4 143.3,143.1 C143.7,142.9 144.2,142.6 144.6,142.4 C145.1,142.1 145.5,141.9 146.0,141.7 C146.4,141.4 146.9,141.2 147.3,140.9 C147.8,140.7 148.2,140.4 148.7,140.2 C149.1,139.9 149.6,139.7 150.0,139.4 C150.5,139.2 150.9,138.9 151.4,138.7 C151.8,138.4 152.3,138.2 152.7,137.9 C153.1,137.7 153.6,137.4 154.0,137.2 C154.5,136.9 154.9,136.7 155.4,136.4 C155.8,136.2 156.2,135.9 156.7,135.7 C157.1,135.4 157.6,135.1 158.0,134.9 C158.4,134.6 158.9,134.4 159.3,134.1 C159.8,133.9 160.2,133.6 160.6,133.3 C161.1,133.1 161.5,132.8 162.0,132.6 C162.4,132.3 162.8,132.0 163.3,131.8 C163.7,131.5 164.1,131.3 164.6,131.0 C165.0,130.7 165.4,130.5 165.9,130.2 C166.3,129.9 166.8,129.7 167.2,129.4 C167.6,129.1 168.1,128.9 168.5,128.6 C168.9,128.3 169.3,128.1 169.8,127.8 C170.2,127.5 170.6,127.2 171.1,127.0 C171.5,126.7 171.9,126.4 172.4,126.2 C172.8,125.9 173.2,125.6 173.6,125.3 C174.1,125.1 174.5,124.8 174.9,124.5 C175.4,124.2 175.8,123.9 176.2,123.7 C176.6,123.4 177.1,123.1 177.5,122.8 C177.9,122.5 178.3,122.3 178.8,122.0 C179.2,121.7 179.6,121.4 180.0,121.1 C180.4,120.8 180.9,120.6 181.3,120.3 C181.7,120.0 182.1,119.7 182.6,119.4 C183.0,119.1 183.4,118.8 183.8,118.5 C184.2,118.2 184.6,117.9 185.1,117.6 C185.5,117.4 185.9,117.1 186.3,116.8 C186.7,116.5 187.2,116.2 187.6,115.9 C188.0,115.6 188.4,115.3 188.8,115.0 C189.2,114.7 189.6,114.4 190.0,114.1 C190.5,113.8 190.9,113.5 191.3,113.1 C191.7,112.8 192.1,112.5 192.5,112.2 C192.9,111.9 193.3,111.6 193.7,111.3 C194.1,111.0 194.6,110.7 195.0,110.4 C195.4,110.1 195.8,109.7 196.2,109.4 C196.6,109.1 197.0,108.8 197.4,108.5 C197.8,108.2 198.2,107.8 198.6,107.5 C199.0,107.2 199.4,106.9 199.8,106.6 C200.2,106.2 200.6,105.9 201.0,105.6 C201.4,105.3 201.8,104.9 202.2,104.6 C202.6,104.3 203.0,103.9 203.3,103.6 C203.7,103.3 204.1,103.0 204.5,102.6 C204.9,102.3 205.3,102.0 205.7,101.6 C206.1,101.3 206.5,101.0 206.8,100.6 C207.2,100.3 207.6,99.9 208.0,99.6 C208.4,99.3 208.8,98.9 209.1,98.6 C209.5,98.2 209.9,97.9 210.3,97.5 C210.7,97.2 211.0,96.8 211.4,96.5 C211.8,96.2 212.2,95.8 212.5,95.5 C212.9,95.1 213.3,94.7 213.6,94.4 C214.0,94.0 214.4,93.7 214.8,93.3 C215.1,93.0 215.5,92.6 215.9,92.3 C216.2,91.9 216.6,91.5 216.9,91.2 C217.3,90.8 217.7,90.5 218.0,90.1 C218.4,89.7 218.7,89.4 219.1,89.0 C219.5,88.6 219.8,88.3 220.2,87.9 C220.5,87.5 220.9,87.1 221.2,86.8 C221.6,86.4 221.9,86.0 222.3,85.7 C222.6,85.3 222.9,84.9 223.3,84.5 C223.6,84.1 224.0,83.8 224.3,83.4 C224.7,83.0 225.0,82.6 225.3,82.2 C225.7,81.9 226.0,81.5 226.3,81.1 C226.7,80.7 227.0,80.3 227.3,79.9 C227.7,79.5 228.0,79.1 228.3,78.7 C228.6,78.4 229.0,78.0 229.3,77.6 C229.6,77.2 229.9,76.8 230.2,76.4 C230.6,76.0 230.9,75.6 231.2,75.2 C231.5,74.8 231.8,74.4 232.1,74.0 C232.4,73.6 232.7,73.2 233.0,72.7 C233.4,72.3 233.7,71.9 234.0,71.5 C234.3,71.1 234.6,70.7 234.9,70.3 C235.2,69.9 235.5,69.5 235.8,69.0 C236.0,68.6 236.3,68.2 236.6,67.8 C236.9,67.4 237.2,66.9 237.5,66.5 C237.8,66.1 238.1,65.7 238.3,65.2 C238.6,64.8 238.9,64.4 239.2,64.0 C239.5,63.5 239.7,63.1 240.0,62.7 C240.3,62.2 240.6,61.8 240.8,61.4 C241.1,60.9 241.4,60.5 241.6,60.1 C241.9,59.6 242.1,59.2 242.4,58.7 C242.7,58.3 242.9,57.9 243.2,57.4 C243.4,57.0 243.7,56.5 243.9,56.1 C244.2,55.6 244.4,55.2 244.7,54.7 C244.9,54.3 245.2,53.8 245.4,53.4 C245.6,52.9 245.9,52.4 246.1,52.0 C246.3,51.5 246.6,51.1 246.8,50.6 C247.0,50.2 247.3,49.7 247.5,49.2 C247.7,48.8 247.9,48.3 248.2,47.8 C248.4,47.4 248.6,46.9 248.8,46.4 C249.0,45.9 249.2,45.5 249.4,45.0 C249.7,44.5 250.0,43.8 250.1,43.6" stroke="#0072b2" stroke-width="1.5" fill="none" stroke-linejoin="round" clip-path="url(#cl)"/>

<path d="M384.5,88.0 C384.6,89.7 384.7,95.4 384.9,98.0 C385.1,100.6 385.4,101.8 385.8,103.5 C386.2,105.2 386.4,106.4 387.1,108.2 C387.8,110.0 389.0,112.7 390.2,114.3 C391.4,115.9 392.9,117.1 394.3,117.9 C395.7,118.8 396.6,119.2 398.4,119.4 C400.2,119.6 403.0,119.3 405.0,118.9 C407.0,118.5 407.9,118.0 410.4,116.8 C412.9,115.6 416.6,113.7 420.0,111.8 C423.4,109.9 425.6,108.7 430.8,105.6 C436.0,102.5 444.4,96.8 451.2,93.4 C458.0,90.0 465.1,87.9 471.6,85.2 C478.1,82.5 486.7,78.6 490.0,77.0 C493.4,75.5 491.2,76.4 491.8,76.1 C492.4,75.7 493.0,75.4 493.6,75.1 C494.2,74.7 494.8,74.4 495.4,74.0 C496.0,73.7 496.6,73.3 497.2,73.0 C497.7,72.6 498.3,72.3 498.9,71.9 C499.5,71.6 500.1,71.2 500.7,70.8 C501.2,70.5 501.8,70.1 502.4,69.8 C503.0,69.4 503.6,69.0 504.1,68.7 C504.7,68.3 505.3,67.9 505.9,67.6 C506.4,67.2 507.0,66.8 507.6,66.4 C508.2,66.1 508.8,65.7 509.3,65.3 C509.9,65.0 510.5,64.6 511.1,64.2 C511.6,63.8 512.2,63.5 512.8,63.1 C513.4,62.7 513.9,62.3 514.5,62.0 C515.1,61.6 515.7,61.2 516.2,60.8 C516.8,60.4 517.4,60.1 517.9,59.7 C518.5,59.3 519.1,58.9 519.6,58.5 C520.2,58.1 520.7,57.7 521.3,57.3 C521.9,56.9 522.4,56.5 523.0,56.1 C523.5,55.7 524.1,55.3 524.6,54.9 C525.1,54.5 525.7,54.1 526.2,53.6 C526.7,53.2 527.3,52.8 527.8,52.3 C528.3,51.9 528.8,51.5 529.3,51.0 C529.8,50.6 530.3,50.1 530.8,49.6 C531.3,49.2 531.8,48.7 532.3,48.2 C532.8,47.7 533.2,47.2 533.7,46.7 C534.2,46.2 534.6,45.7 535.1,45.2 C535.5,44.7 536.0,44.2 536.4,43.7 C536.8,43.1 537.3,42.6 537.7,42.0 C538.1,41.5 538.5,41.0 538.9,40.4 C539.3,39.8 539.7,39.3 540.1,38.7 C540.5,38.1 540.9,37.6 541.3,37.0 C541.6,36.4 542.0,35.8 542.4,35.2 C542.7,34.6 543.1,34.0 543.4,33.4 C543.7,32.8 544.1,32.2 544.4,31.6 C544.7,31.0 545.0,30.4 545.3,29.8 C545.7,29.1 546.0,28.5 546.2,27.9 C546.5,27.3 546.8,26.6 547.1,26.0 C547.4,25.4 547.6,24.7 547.9,24.1 C548.1,23.4 548.4,22.8 548.6,22.1 C548.9,21.5 549.1,20.8 549.3,20.2 C549.5,19.5 549.8,18.9 550.0,18.2 C550.2,17.5 550.4,16.9 550.5,16.2 C550.7,15.6 551.0,14.6 551.1,14.2" stroke="#d2d2d2" stroke-width="1.1" fill="none" stroke-linejoin="round" clip-path="url(#cr)"/>
<path d="M382.8,182.0 C383.1,175.0 383.9,149.9 384.3,140.0 C384.7,130.1 384.6,124.9 385.1,122.6 C385.6,120.3 386.2,124.9 387.1,126.2 C388.0,127.5 389.0,129.0 390.2,130.2 C391.4,131.4 393.0,132.5 394.3,133.3 C395.6,134.2 396.2,134.8 398.0,135.3 C399.8,135.8 401.0,136.3 405.0,136.5 C409.0,136.7 415.2,136.7 422.0,136.7 C428.8,136.7 441.7,136.4 446.1,136.3 C450.5,136.2 447.7,136.2 448.5,136.1 C449.4,136.0 450.2,135.9 451.0,135.8 C451.8,135.8 452.6,135.7 453.5,135.6 C454.3,135.5 455.1,135.5 456.0,135.4 C456.8,135.3 457.6,135.2 458.4,135.2 C459.3,135.1 460.1,135.0 460.9,134.9 C461.7,134.9 462.6,134.8 463.4,134.7 C464.2,134.6 465.1,134.6 465.9,134.5 C466.7,134.4 467.6,134.3 468.4,134.3 C469.2,134.2 470.0,134.1 470.9,134.1 C471.7,134.0 472.5,133.9 473.4,133.9 C474.2,133.8 475.0,133.7 475.9,133.6 C476.7,133.6 477.6,133.5 478.4,133.4 C479.2,133.4 480.1,133.3 480.9,133.2 C481.7,133.1 482.6,133.1 483.4,133.0 C484.2,132.9 485.1,132.9 485.9,132.8 C486.7,132.7 487.6,132.6 488.4,132.6 C489.3,132.5 490.1,132.4 490.9,132.3 C491.8,132.3 492.6,132.2 493.4,132.1 C494.3,132.0 495.1,132.0 495.9,131.9 C496.8,131.8 497.6,131.7 498.5,131.6 C499.3,131.6 500.1,131.5 501.0,131.4 C501.8,131.3 502.6,131.2 503.5,131.2 C504.3,131.1 505.2,131.0 506.0,130.9 C506.8,130.8 507.7,130.7 508.5,130.6 C509.3,130.6 510.2,130.5 511.0,130.4 C511.8,130.3 512.7,130.2 513.5,130.1 C514.3,130.0 515.2,129.9 516.0,129.8 C516.9,129.7 517.7,129.6 518.5,129.5 C519.4,129.4 520.2,129.3 521.0,129.2 C521.9,129.1 522.7,129.0 523.5,128.9 C524.4,128.8 525.2,128.7 526.0,128.5 C526.8,128.4 527.7,128.3 528.5,128.2 C529.3,128.1 530.2,128.0 531.0,127.8 C531.8,127.7 532.7,127.6 533.5,127.5 C534.3,127.3 535.1,127.2 536.0,127.1 C536.8,127.0 537.6,126.8 538.4,126.7 C539.3,126.6 540.1,126.4 540.9,126.3 C541.7,126.1 542.6,126.0 543.4,125.8 C544.2,125.7 545.0,125.6 545.9,125.4 C546.7,125.2 547.5,125.1 548.3,124.9 C549.1,124.8 550.0,124.6 550.8,124.5 C551.6,124.3 552.4,124.1 553.2,124.0 C554.0,123.8 554.9,123.6 555.7,123.4 C556.5,123.3 557.3,123.1 558.1,122.9 C558.9,122.7 559.7,122.5 560.6,122.3 C561.4,122.1 562.2,122.0 563.0,121.8 C563.8,121.6 564.6,121.4 565.4,121.2 C566.2,121.0 567.0,120.7 567.8,120.5 C568.6,120.3 569.4,120.1 570.2,119.9 C571.0,119.7 571.8,119.4 572.6,119.2 C573.4,119.0 574.2,118.8 575.0,118.5 C575.8,118.3 576.6,118.1 577.4,117.8 C578.2,117.6 579.0,117.3 579.8,117.1 C580.6,116.8 581.4,116.6 582.1,116.3 C582.9,116.0 583.7,115.8 584.5,115.5 C585.3,115.2 586.1,115.0 586.9,114.7 C587.6,114.4 588.4,114.1 589.2,113.8 C590.0,113.5 590.8,113.3 591.5,113.0 C592.3,112.7 593.1,112.4 593.9,112.1 C594.6,111.7 595.4,111.4 596.2,111.1 C596.9,110.8 597.7,110.5 598.5,110.2 C599.2,109.8 600.0,109.5 600.8,109.1 C601.5,108.8 602.3,108.5 603.0,108.1 C603.8,107.7 604.5,107.4 605.3,107.0 C606.0,106.6 606.7,106.2 607.5,105.8 C608.2,105.5 608.9,105.1 609.6,104.6 C610.3,104.2 611.1,103.8 611.8,103.4 C612.5,102.9 613.2,102.5 613.9,102.0 C614.5,101.6 615.2,101.1 615.9,100.6 C616.6,100.2 617.2,99.7 617.9,99.2 C618.5,98.7 619.2,98.1 619.8,97.6 C620.5,97.1 621.1,96.5 621.7,96.0 C622.3,95.4 622.9,94.8 623.5,94.2 C624.1,93.7 624.7,93.1 625.3,92.4 C625.9,91.8 626.4,91.2 627.0,90.5 C627.5,89.9 628.0,89.2 628.6,88.5 C629.1,87.8 629.6,87.1 630.1,86.4 C630.6,85.7 631.3,84.5 631.5,84.2" stroke="#9400d3" stroke-width="1.5" fill="none" stroke-linejoin="round" clip-path="url(#cr)"/>
<path d="M383.0,182.0 C383.4,175.8 385.2,153.3 385.6,145.0 C386.0,136.7 385.2,134.4 385.6,132.3 C386.0,130.2 387.3,132.0 388.2,132.3 C389.1,132.6 389.9,133.3 391.0,134.0 C392.1,134.7 393.5,135.8 395.0,136.5 C396.5,137.2 397.5,137.9 400.0,138.3 C402.5,138.8 406.3,139.1 410.0,139.2 C413.7,139.3 416.0,138.9 422.0,138.8 C428.0,138.7 441.6,138.7 446.0,138.7 C450.4,138.6 447.6,138.6 448.4,138.6 C449.3,138.6 450.1,138.6 450.9,138.6 C451.7,138.5 452.5,138.5 453.3,138.5 C454.2,138.5 455.0,138.5 455.8,138.5 C456.6,138.4 457.4,138.4 458.2,138.4 C459.1,138.4 459.9,138.4 460.7,138.4 C461.5,138.4 462.3,138.3 463.1,138.3 C463.9,138.3 464.8,138.3 465.6,138.3 C466.4,138.3 467.2,138.3 468.0,138.2 C468.8,138.2 469.6,138.2 470.4,138.2 C471.3,138.2 472.1,138.2 472.9,138.1 C473.7,138.1 474.5,138.1 475.3,138.1 C476.1,138.1 476.9,138.1 477.7,138.0 C478.6,138.0 479.4,138.0 480.2,138.0 C481.0,138.0 481.8,137.9 482.6,137.9 C483.4,137.9 484.2,137.9 485.0,137.9 C485.9,137.8 486.7,137.8 487.5,137.8 C488.3,137.8 489.1,137.8 489.9,137.7 C490.7,137.7 491.5,137.7 492.3,137.7 C493.2,137.6 494.0,137.6 494.8,137.6 C495.6,137.5 496.4,137.5 497.2,137.5 C498.0,137.5 498.8,137.4 499.6,137.4 C500.4,137.4 501.3,137.3 502.1,137.3 C502.9,137.3 503.7,137.2 504.5,137.2 C505.3,137.2 506.1,137.1 506.9,137.1 C507.7,137.0 508.6,137.0 509.4,137.0 C510.2,136.9 511.0,136.9 511.8,136.8 C512.6,136.8 513.4,136.7 514.2,136.7 C515.0,136.6 515.9,136.6 516.7,136.5 C517.5,136.5 518.3,136.4 519.1,136.4 C519.9,136.3 520.7,136.3 521.5,136.2 C522.4,136.2 523.2,136.1 524.0,136.0 C524.8,136.0 525.6,135.9 526.4,135.9 C527.2,135.8 528.1,135.7 528.9,135.7 C529.7,135.6 530.5,135.5 531.3,135.5 C532.1,135.4 533.0,135.3 533.8,135.2 C534.6,135.2 535.4,135.1 536.2,135.0 C537.0,134.9 537.9,134.9 538.7,134.8 C539.5,134.7 540.3,134.6 541.1,134.5 C541.9,134.4 542.8,134.3 543.6,134.2 C544.4,134.2 545.2,134.1 546.0,134.0 C546.9,133.9 547.7,133.8 548.5,133.7 C549.3,133.6 550.1,133.5 550.9,133.3 C551.8,133.2 552.6,133.1 553.4,133.0 C554.2,132.9 555.0,132.8 555.8,132.6 C556.7,132.5 557.5,132.4 558.3,132.2 C559.1,132.1 559.9,132.0 560.7,131.8 C561.5,131.7 562.3,131.5 563.1,131.4 C563.9,131.2 564.7,131.1 565.6,130.9 C566.4,130.8 567.2,130.6 568.0,130.4 C568.8,130.2 569.5,130.1 570.3,129.9 C571.1,129.7 571.9,129.5 572.7,129.3 C573.5,129.1 574.3,128.9 575.1,128.7 C575.9,128.5 576.6,128.3 577.4,128.0 C578.2,127.8 579.0,127.6 579.7,127.4 C580.5,127.1 581.3,126.9 582.0,126.6 C582.8,126.4 583.6,126.1 584.3,125.8 C585.1,125.6 585.8,125.3 586.6,125.0 C587.3,124.7 588.1,124.4 588.8,124.2 C589.6,123.9 590.3,123.5 591.0,123.2 C591.8,122.9 592.5,122.6 593.2,122.3 C593.9,121.9 594.7,121.6 595.4,121.2 C596.1,120.9 596.8,120.5 597.5,120.2 C598.2,119.8 598.9,119.4 599.6,119.0 C600.3,118.6 601.0,118.2 601.7,117.8 C602.3,117.4 603.0,117.0 603.7,116.6 C604.4,116.1 605.0,115.7 605.7,115.3 C606.3,114.8 607.0,114.4 607.6,113.9 C608.3,113.4 608.9,112.9 609.5,112.4 C610.2,112.0 610.8,111.5 611.4,110.9 C612.0,110.4 612.6,109.9 613.2,109.4 C613.8,108.8 614.4,108.3 615.0,107.7 C615.5,107.2 616.1,106.6 616.7,106.0 C617.2,105.5 617.8,104.9 618.3,104.3 C618.8,103.7 619.4,103.1 619.9,102.4 C620.4,101.8 620.9,101.2 621.4,100.5 C621.9,99.9 622.4,99.2 622.9,98.6 C623.3,97.9 623.8,97.2 624.2,96.5 C624.7,95.8 625.1,95.1 625.5,94.4 C625.9,93.7 626.4,92.9 626.8,92.2 C627.1,91.4 627.5,90.7 627.9,89.9 C628.3,89.1 628.6,88.4 629.0,87.6 C629.3,86.8 629.6,86.0 629.9,85.1 C630.2,84.3 630.7,83.0 630.8,82.6" stroke="#009e73" stroke-width="1.5" fill="none" stroke-linejoin="round" clip-path="url(#cr)"/>
<path d="M383.2,182.0 C383.5,175.0 384.8,148.7 385.1,140.0 C385.5,131.3 385.1,131.4 385.3,130.0 C385.5,128.6 385.7,130.8 386.5,131.5 C387.3,132.2 388.8,133.7 390.0,134.5 C391.2,135.3 392.3,135.9 394.0,136.5 C395.7,137.1 397.3,137.5 400.0,137.8 C402.7,138.1 406.3,138.2 410.0,138.3 C413.7,138.4 416.0,138.5 422.0,138.5 C428.0,138.5 441.6,138.3 446.0,138.3 C450.5,138.2 447.7,138.1 448.6,138.1 C449.4,138.0 450.2,138.0 451.1,137.9 C451.9,137.8 452.8,137.8 453.6,137.7 C454.4,137.7 455.3,137.6 456.1,137.6 C457.0,137.5 457.8,137.4 458.6,137.4 C459.5,137.3 460.3,137.3 461.2,137.2 C462.0,137.1 462.9,137.1 463.7,137.0 C464.6,137.0 465.4,136.9 466.2,136.9 C467.1,136.8 467.9,136.7 468.8,136.7 C469.6,136.6 470.5,136.6 471.3,136.5 C472.2,136.4 473.0,136.4 473.9,136.3 C474.7,136.3 475.6,136.2 476.4,136.1 C477.2,136.1 478.1,136.0 478.9,135.9 C479.8,135.9 480.6,135.8 481.5,135.8 C482.3,135.7 483.2,135.6 484.0,135.6 C484.9,135.5 485.7,135.4 486.6,135.4 C487.4,135.3 488.3,135.2 489.1,135.2 C490.0,135.1 490.8,135.0 491.7,134.9 C492.5,134.9 493.4,134.8 494.2,134.7 C495.0,134.7 495.9,134.6 496.7,134.5 C497.6,134.4 498.4,134.4 499.3,134.3 C500.1,134.2 501.0,134.1 501.8,134.0 C502.7,134.0 503.5,133.9 504.4,133.8 C505.2,133.7 506.1,133.6 506.9,133.5 C507.8,133.4 508.6,133.4 509.4,133.3 C510.3,133.2 511.1,133.1 512.0,133.0 C512.8,132.9 513.7,132.8 514.5,132.7 C515.4,132.6 516.2,132.5 517.1,132.4 C517.9,132.3 518.7,132.2 519.6,132.1 C520.4,132.0 521.3,131.9 522.1,131.8 C523.0,131.7 523.8,131.6 524.6,131.5 C525.5,131.3 526.3,131.2 527.2,131.1 C528.0,131.0 528.8,130.9 529.7,130.8 C530.5,130.6 531.4,130.5 532.2,130.4 C533.0,130.3 533.9,130.1 534.7,130.0 C535.6,129.9 536.4,129.7 537.2,129.6 C538.1,129.5 538.9,129.3 539.7,129.2 C540.6,129.0 541.4,128.9 542.2,128.8 C543.1,128.6 543.9,128.5 544.7,128.3 C545.6,128.2 546.4,128.0 547.2,127.8 C548.1,127.7 548.9,127.5 549.7,127.4 C550.6,127.2 551.4,127.0 552.2,126.9 C553.0,126.7 553.9,126.5 554.7,126.3 C555.5,126.2 556.3,126.0 557.2,125.8 C558.0,125.6 558.8,125.4 559.6,125.2 C560.5,125.1 561.3,124.9 562.1,124.7 C562.9,124.5 563.8,124.3 564.6,124.1 C565.4,123.9 566.2,123.7 567.0,123.5 C567.8,123.3 568.7,123.0 569.5,122.8 C570.3,122.6 571.1,122.4 571.9,122.2 C572.7,121.9 573.5,121.7 574.4,121.5 C575.2,121.3 576.0,121.0 576.8,120.8 C577.6,120.5 578.4,120.3 579.2,120.1 C580.0,119.8 580.8,119.6 581.6,119.3 C582.4,119.0 583.2,118.8 584.0,118.5 C584.8,118.2 585.6,117.9 586.4,117.6 C587.1,117.3 587.9,117.0 588.7,116.7 C589.4,116.3 590.2,116.0 590.9,115.6 C591.7,115.2 592.4,114.9 593.1,114.4 C593.8,114.0 594.5,113.6 595.2,113.2 C595.9,112.7 596.6,112.2 597.3,111.8 C597.9,111.3 598.6,110.8 599.2,110.2 C599.9,109.7 600.5,109.1 601.1,108.6 C601.7,108.0 602.3,107.4 602.9,106.8 C603.5,106.2 604.1,105.6 604.7,105.0 C605.2,104.3 605.8,103.7 606.3,103.0 C606.9,102.4 607.4,101.7 607.9,101.0 C608.4,100.3 608.9,99.6 609.4,98.9 C609.9,98.2 610.4,97.4 610.9,96.7 C611.4,96.0 611.9,95.2 612.3,94.5 C612.8,93.7 613.2,93.0 613.7,92.2 C614.1,91.5 614.6,90.7 615.0,90.0 C615.4,89.2 615.9,88.4 616.3,87.7 C616.7,86.9 617.3,85.8 617.5,85.4" stroke="#56b4e9" stroke-width="1.5" fill="none" stroke-linejoin="round" clip-path="url(#cr)"/>
<path d="M382.5,182.0 C382.9,175.8 384.3,154.4 384.8,145.0 C385.3,135.6 385.0,128.2 385.5,125.7 C386.0,123.2 387.2,128.7 388.0,130.0 C388.8,131.3 389.3,132.2 390.2,133.3 C391.1,134.4 392.0,135.5 393.3,136.4 C394.6,137.3 395.2,137.9 398.0,138.5 C400.8,139.1 406.0,139.8 410.0,140.2 C414.0,140.5 416.0,140.6 422.0,140.6 C428.0,140.6 441.7,140.3 446.0,140.2 C450.4,140.1 447.5,140.1 448.2,140.0 C448.9,140.0 449.7,140.0 450.4,139.9 C451.1,139.9 451.8,139.8 452.6,139.8 C453.3,139.8 454.0,139.7 454.8,139.7 C455.5,139.6 456.2,139.6 456.9,139.6 C457.7,139.5 458.4,139.5 459.1,139.4 C459.9,139.4 460.6,139.4 461.3,139.3 C462.0,139.3 462.8,139.3 463.5,139.2 C464.2,139.2 465.0,139.1 465.7,139.1 C466.4,139.1 467.1,139.0 467.9,139.0 C468.6,139.0 469.3,138.9 470.1,138.9 C470.8,138.8 471.5,138.8 472.2,138.8 C473.0,138.7 473.7,138.7 474.4,138.6 C475.2,138.6 475.9,138.6 476.6,138.5 C477.4,138.5 478.1,138.4 478.8,138.4 C479.5,138.4 480.3,138.3 481.0,138.3 C481.7,138.2 482.5,138.2 483.2,138.1 C483.9,138.1 484.7,138.1 485.4,138.0 C486.1,138.0 486.9,137.9 487.6,137.9 C488.3,137.8 489.0,137.8 489.8,137.7 C490.5,137.7 491.2,137.6 492.0,137.6 C492.7,137.5 493.4,137.5 494.2,137.4 C494.9,137.3 495.6,137.3 496.3,137.2 C497.1,137.2 497.8,137.1 498.5,137.1 C499.3,137.0 500.0,136.9 500.7,136.9 C501.5,136.8 502.2,136.7 502.9,136.7 C503.6,136.6 504.4,136.6 505.1,136.5 C505.8,136.4 506.6,136.3 507.3,136.3 C508.0,136.2 508.7,136.1 509.5,136.1 C510.2,136.0 510.9,135.9 511.7,135.8 C512.4,135.7 513.1,135.7 513.9,135.6 C514.6,135.5 515.3,135.4 516.0,135.3 C516.8,135.2 517.5,135.2 518.2,135.1 C518.9,135.0 519.7,134.9 520.4,134.8 C521.1,134.7 521.9,134.6 522.6,134.5 C523.3,134.4 524.0,134.3 524.8,134.2 C525.5,134.1 526.2,134.0 526.9,133.9 C527.7,133.8 528.4,133.6 529.1,133.5 C529.8,133.4 530.6,133.3 531.3,133.2 C532.0,133.1 532.7,132.9 533.5,132.8 C534.2,132.7 534.9,132.6 535.6,132.4 C536.4,132.3 537.1,132.2 537.8,132.0 C538.5,131.9 539.3,131.8 540.0,131.6 C540.7,131.5 541.4,131.4 542.2,131.2 C542.9,131.1 543.6,130.9 544.3,130.8 C545.0,130.6 545.8,130.4 546.5,130.3 C547.2,130.1 547.9,130.0 548.6,129.8 C549.3,129.6 550.1,129.5 550.8,129.3 C551.5,129.1 552.2,128.9 552.9,128.7 C553.6,128.5 554.3,128.4 555.0,128.2 C555.7,128.0 556.4,127.8 557.1,127.6 C557.8,127.3 558.5,127.1 559.2,126.9 C559.9,126.7 560.6,126.5 561.3,126.3 C562.0,126.0 562.7,125.8 563.4,125.5 C564.1,125.3 564.7,125.1 565.4,124.8 C566.1,124.6 566.8,124.3 567.4,124.0 C568.1,123.8 568.8,123.5 569.4,123.2 C570.1,122.9 570.8,122.6 571.4,122.3 C572.1,122.0 572.7,121.7 573.4,121.4 C574.0,121.1 574.6,120.8 575.3,120.5 C575.9,120.2 576.5,119.8 577.2,119.5 C577.8,119.1 578.4,118.8 579.0,118.4 C579.6,118.1 580.2,117.7 580.8,117.3 C581.4,116.9 582.0,116.6 582.6,116.2 C583.2,115.8 583.8,115.4 584.4,115.0 C585.0,114.5 585.5,114.1 586.1,113.7 C586.7,113.3 587.2,112.8 587.8,112.4 C588.3,111.9 588.9,111.5 589.4,111.0 C589.9,110.5 590.5,110.1 591.0,109.6 C591.5,109.1 592.0,108.6 592.5,108.1 C593.0,107.6 593.5,107.1 594.0,106.5 C594.5,106.0 595.0,105.5 595.4,104.9 C595.9,104.4 596.4,103.8 596.8,103.3 C597.3,102.7 597.7,102.1 598.1,101.6 C598.6,101.0 599.0,100.4 599.4,99.8 C599.8,99.2 600.2,98.5 600.6,97.9 C601.0,97.3 601.4,96.6 601.8,96.0 C602.1,95.3 602.5,94.7 602.9,94.0 C603.2,93.3 603.6,92.7 603.9,92.0 C604.2,91.3 604.5,90.6 604.8,89.9 C605.1,89.1 605.4,88.4 605.7,87.7 C606.0,86.9 606.3,86.2 606.5,85.4 C606.8,84.7 607.0,83.9 607.3,83.1 C607.5,82.3 607.8,81.1 607.9,80.7" stroke="#e69f00" stroke-width="1.5" fill="none" stroke-linejoin="round" clip-path="url(#cr)"/>
<path d="M381.8,182.0 C382.3,175.0 384.1,149.7 384.6,140.0 C385.1,130.3 384.0,125.9 384.6,124.1 C385.2,122.3 386.9,127.5 388.2,129.2 C389.5,130.9 390.6,132.9 392.2,134.3 C393.8,135.7 395.0,137.0 398.0,137.8 C401.0,138.6 406.0,138.9 410.0,139.2 C414.0,139.5 416.0,139.7 422.0,139.7 C428.0,139.7 441.6,139.2 446.0,139.1 C450.4,139.0 447.6,139.0 448.4,139.0 C449.1,138.9 449.9,138.9 450.7,138.8 C451.5,138.8 452.3,138.7 453.0,138.7 C453.8,138.6 454.6,138.6 455.4,138.5 C456.2,138.5 457.0,138.4 457.7,138.4 C458.5,138.3 459.3,138.3 460.1,138.3 C460.9,138.2 461.7,138.2 462.4,138.1 C463.2,138.1 464.0,138.0 464.8,138.0 C465.6,137.9 466.4,137.9 467.1,137.8 C467.9,137.8 468.7,137.7 469.5,137.7 C470.3,137.6 471.1,137.6 471.8,137.5 C472.6,137.5 473.4,137.4 474.2,137.4 C475.0,137.3 475.7,137.3 476.5,137.2 C477.3,137.2 478.1,137.1 478.9,137.0 C479.7,137.0 480.4,136.9 481.2,136.9 C482.0,136.8 482.8,136.8 483.6,136.7 C484.4,136.6 485.1,136.6 485.9,136.5 C486.7,136.4 487.5,136.4 488.3,136.3 C489.1,136.2 489.8,136.2 490.6,136.1 C491.4,136.0 492.2,136.0 493.0,135.9 C493.7,135.8 494.5,135.8 495.3,135.7 C496.1,135.6 496.9,135.5 497.6,135.4 C498.4,135.4 499.2,135.3 500.0,135.2 C500.8,135.1 501.6,135.0 502.3,134.9 C503.1,134.9 503.9,134.8 504.7,134.7 C505.5,134.6 506.2,134.5 507.0,134.4 C507.8,134.3 508.6,134.2 509.3,134.1 C510.1,134.0 510.9,133.9 511.7,133.8 C512.5,133.7 513.2,133.6 514.0,133.5 C514.8,133.3 515.6,133.2 516.4,133.1 C517.1,133.0 517.9,132.9 518.7,132.8 C519.5,132.6 520.2,132.5 521.0,132.4 C521.8,132.2 522.6,132.1 523.3,132.0 C524.1,131.9 524.9,131.7 525.7,131.6 C526.4,131.4 527.2,131.3 528.0,131.1 C528.8,131.0 529.5,130.8 530.3,130.7 C531.1,130.5 531.9,130.4 532.6,130.2 C533.4,130.1 534.2,129.9 534.9,129.7 C535.7,129.6 536.5,129.4 537.3,129.2 C538.0,129.0 538.8,128.9 539.6,128.7 C540.3,128.5 541.1,128.3 541.9,128.1 C542.6,127.9 543.4,127.7 544.2,127.5 C544.9,127.3 545.7,127.1 546.5,126.9 C547.2,126.7 548.0,126.5 548.8,126.3 C549.5,126.1 550.3,125.8 551.0,125.6 C551.8,125.4 552.5,125.1 553.3,124.9 C554.0,124.7 554.8,124.4 555.5,124.2 C556.3,123.9 557.0,123.6 557.7,123.4 C558.5,123.1 559.2,122.8 559.9,122.5 C560.6,122.2 561.4,122.0 562.1,121.7 C562.8,121.4 563.5,121.0 564.2,120.7 C564.9,120.4 565.6,120.1 566.3,119.7 C567.0,119.4 567.7,119.1 568.4,118.7 C569.1,118.4 569.8,118.0 570.4,117.6 C571.1,117.2 571.8,116.9 572.4,116.5 C573.1,116.1 573.7,115.7 574.4,115.2 C575.0,114.8 575.6,114.4 576.3,114.0 C576.9,113.5 577.5,113.1 578.1,112.6 C578.7,112.2 579.3,111.7 579.9,111.2 C580.5,110.7 581.1,110.2 581.6,109.7 C582.2,109.2 582.8,108.7 583.3,108.2 C583.9,107.7 584.4,107.1 585.0,106.6 C585.5,106.0 586.0,105.4 586.5,104.9 C587.0,104.3 587.5,103.7 588.0,103.1 C588.5,102.5 589.0,101.9 589.5,101.3 C589.9,100.7 590.4,100.0 590.8,99.4 C591.3,98.8 591.7,98.1 592.1,97.4 C592.6,96.8 593.0,96.1 593.4,95.4 C593.7,94.7 594.1,94.0 594.5,93.3 C594.9,92.6 595.2,91.8 595.6,91.1 C595.9,90.4 596.2,89.6 596.5,88.9 C596.9,88.1 597.2,87.3 597.4,86.5 C597.7,85.7 598.0,84.9 598.2,84.1 C598.5,83.3 598.8,82.1 599.0,81.7" stroke="#f0e442" stroke-width="1.5" fill="none" stroke-linejoin="round" clip-path="url(#cr)"/>
<path d="M383.4,4.0 C383.5,11.7 383.6,35.7 383.8,50.0 C384.0,64.3 384.3,81.7 384.4,90.0 C384.5,98.3 384.5,96.6 384.6,100.0 C384.7,103.4 384.9,107.1 385.1,110.2 C385.4,113.3 385.7,116.2 386.1,118.4 C386.5,120.6 387.0,121.5 387.7,123.1 C388.4,124.7 389.3,126.8 390.2,128.2 C391.1,129.6 392.1,130.5 393.3,131.3 C394.5,132.2 395.4,132.6 397.3,133.3 C399.2,134.1 402.9,135.2 405.0,135.8 C407.1,136.4 407.2,136.5 410.0,136.8 C412.8,137.1 416.0,137.4 422.0,137.5 C428.0,137.6 441.5,137.3 446.0,137.2 C450.5,137.1 447.8,137.0 448.8,136.9 C449.7,136.8 450.6,136.8 451.5,136.7 C452.5,136.6 453.4,136.5 454.3,136.5 C455.3,136.4 456.2,136.3 457.1,136.3 C458.0,136.2 459.0,136.2 459.9,136.1 C460.8,136.1 461.7,136.0 462.7,135.9 C463.6,135.9 464.5,135.9 465.4,135.8 C466.3,135.8 467.3,135.7 468.2,135.7 C469.1,135.6 470.0,135.6 471.0,135.5 C471.9,135.5 472.8,135.4 473.7,135.4 C474.7,135.3 475.6,135.3 476.5,135.2 C477.4,135.2 478.4,135.1 479.3,135.1 C480.2,135.0 481.1,135.0 482.0,134.9 C483.0,134.8 483.9,134.8 484.8,134.7 C485.7,134.6 486.7,134.6 487.6,134.5 C488.5,134.4 489.4,134.3 490.3,134.2 C491.3,134.1 492.2,134.0 493.1,133.9 C494.0,133.8 494.9,133.7 495.8,133.6 C496.8,133.5 497.7,133.4 498.6,133.3 C499.5,133.1 500.4,133.0 501.4,132.9 C502.3,132.7 503.2,132.6 504.1,132.4 C505.0,132.3 505.9,132.1 506.9,132.0 C507.8,131.8 508.7,131.7 509.6,131.5 C510.5,131.3 511.4,131.1 512.3,131.0 C513.3,130.8 514.2,130.6 515.1,130.4 C516.0,130.2 516.9,130.0 517.8,129.8 C518.7,129.6 519.6,129.4 520.6,129.2 C521.5,129.0 522.4,128.7 523.3,128.5 C524.2,128.3 525.1,128.1 526.0,127.8 C526.9,127.6 527.8,127.3 528.7,127.1 C529.6,126.8 530.5,126.6 531.4,126.3 C532.3,126.0 533.2,125.7 534.0,125.5 C534.9,125.2 535.8,124.9 536.7,124.6 C537.6,124.3 538.4,123.9 539.3,123.6 C540.1,123.3 541.0,122.9 541.8,122.6 C542.7,122.2 543.5,121.9 544.4,121.5 C545.2,121.1 546.0,120.7 546.8,120.3 C547.7,119.9 548.5,119.5 549.3,119.1 C550.1,118.6 550.9,118.2 551.6,117.7 C552.4,117.3 553.2,116.8 554.0,116.3 C554.7,115.8 555.5,115.3 556.2,114.8 C557.0,114.3 557.7,113.8 558.4,113.2 C559.1,112.7 559.9,112.1 560.6,111.6 C561.3,111.0 562.0,110.4 562.6,109.8 C563.3,109.2 564.0,108.6 564.7,108.0 C565.3,107.4 566.0,106.7 566.6,106.1 C567.3,105.4 567.9,104.7 568.5,104.1 C569.1,103.4 569.7,102.7 570.3,102.0 C570.9,101.3 571.5,100.5 572.1,99.8 C572.7,99.1 573.2,98.3 573.8,97.6 C574.4,96.8 574.9,96.0 575.4,95.2 C576.0,94.4 576.5,93.6 577.0,92.8 C577.5,92.0 578.0,91.2 578.5,90.3 C578.9,89.5 579.6,88.2 579.9,87.8" stroke="#0072b2" stroke-width="1.5" fill="none" stroke-linejoin="round" clip-path="url(#cr)"/>

<rect x="52.0" y="4.2" width="249.2" height="178.0" fill="none" stroke="#000" stroke-width="1.5"/>
<path d="M52.0,182.2v-3M52.0,4.2v3" stroke="#000" stroke-width="1.1"/>
<text x="53.4" y="197.4" text-anchor="middle" class="tk">0</text>
<path d="M93.5,182.2v-3M93.5,4.2v3" stroke="#000" stroke-width="1.1"/>
<text x="94.9" y="197.4" text-anchor="middle" class="tk">5</text>
<path d="M135.1,182.2v-3M135.1,4.2v3" stroke="#000" stroke-width="1.1"/>
<text x="136.5" y="197.4" text-anchor="middle" class="tk">10</text>
<path d="M176.6,182.2v-3M176.6,4.2v3" stroke="#000" stroke-width="1.1"/>
<text x="178.0" y="197.4" text-anchor="middle" class="tk">15</text>
<path d="M218.1,182.2v-3M218.1,4.2v3" stroke="#000" stroke-width="1.1"/>
<text x="219.5" y="197.4" text-anchor="middle" class="tk">20</text>
<path d="M259.7,182.2v-3M259.7,4.2v3" stroke="#000" stroke-width="1.1"/>
<text x="261.1" y="197.4" text-anchor="middle" class="tk">25</text>
<path d="M301.2,182.2v-3M301.2,4.2v3" stroke="#000" stroke-width="1.1"/>
<text x="302.6" y="197.4" text-anchor="middle" class="tk">30</text>
<path d="M52.0,182.2h3M301.2,182.2h-3" stroke="#000" stroke-width="1.1"/>
<text x="45.4" y="185.6" text-anchor="end" class="tk">0</text>
<path d="M52.0,137.7h3M301.2,137.7h-3" stroke="#000" stroke-width="1.1"/>
<text x="45.4" y="141.6" text-anchor="end" class="tk">0.5</text>
<path d="M52.0,93.2h3M301.2,93.2h-3" stroke="#000" stroke-width="1.1"/>
<text x="45.4" y="96.9" text-anchor="end" class="tk">1</text>
<path d="M52.0,48.7h3M301.2,48.7h-3" stroke="#000" stroke-width="1.1"/>
<text x="45.4" y="52.9" text-anchor="end" class="tk">1.5</text>
<path d="M52.0,4.2h3M301.2,4.2h-3" stroke="#000" stroke-width="1.1"/>
<text x="45.4" y="7.9" text-anchor="end" class="tk">2</text>
<text x="176.6" y="213" text-anchor="middle" class="tk">t [ns]</text>
<text transform="translate(11.9,93.2) rotate(-90)" text-anchor="middle" class="tk">v<tspan class="sb" dy="3">neg</tspan><tspan dy="-3"> [mm ns</tspan><tspan class="sb" dy="-4.5">-1</tspan><tspan dy="4.5">]</tspan></text>

<rect x="381.0" y="4.2" width="249.2" height="178.0" fill="none" stroke="#000" stroke-width="1.5"/>
<path d="M381.0,182.2v-3M381.0,4.2v3" stroke="#000" stroke-width="1.1"/>
<text x="382.4" y="197.4" text-anchor="middle" class="tk">0</text>
<path d="M422.5,182.2v-3M422.5,4.2v3" stroke="#000" stroke-width="1.1"/>
<text x="423.9" y="197.4" text-anchor="middle" class="tk">5</text>
<path d="M464.1,182.2v-3M464.1,4.2v3" stroke="#000" stroke-width="1.1"/>
<text x="465.5" y="197.4" text-anchor="middle" class="tk">10</text>
<path d="M505.6,182.2v-3M505.6,4.2v3" stroke="#000" stroke-width="1.1"/>
<text x="507.0" y="197.4" text-anchor="middle" class="tk">15</text>
<path d="M547.1,182.2v-3M547.1,4.2v3" stroke="#000" stroke-width="1.1"/>
<text x="548.5" y="197.4" text-anchor="middle" class="tk">20</text>
<path d="M588.7,182.2v-3M588.7,4.2v3" stroke="#000" stroke-width="1.1"/>
<text x="590.1" y="197.4" text-anchor="middle" class="tk">25</text>
<path d="M630.2,182.2v-3M630.2,4.2v3" stroke="#000" stroke-width="1.1"/>
<text x="631.6" y="197.4" text-anchor="middle" class="tk">30</text>
<path d="M381.0,182.2h3M630.2,182.2h-3" stroke="#000" stroke-width="1.1"/>
<text x="374.4" y="185.6" text-anchor="end" class="tk">0</text>
<path d="M381.0,137.7h3M630.2,137.7h-3" stroke="#000" stroke-width="1.1"/>
<text x="374.4" y="141.6" text-anchor="end" class="tk">0.5</text>
<path d="M381.0,93.2h3M630.2,93.2h-3" stroke="#000" stroke-width="1.1"/>
<text x="374.4" y="96.9" text-anchor="end" class="tk">1</text>
<path d="M381.0,48.7h3M630.2,48.7h-3" stroke="#000" stroke-width="1.1"/>
<text x="374.4" y="52.9" text-anchor="end" class="tk">1.5</text>
<path d="M381.0,4.2h3M630.2,4.2h-3" stroke="#000" stroke-width="1.1"/>
<text x="374.4" y="7.9" text-anchor="end" class="tk">2</text>
<text x="505.6" y="213" text-anchor="middle" class="tk">t [ns]</text>
<text transform="translate(340.9,93.2) rotate(-90)" text-anchor="middle" class="tk">v<tspan class="sb" dy="3">pos</tspan><tspan dy="-3"> [mm ns</tspan><tspan class="sb" dy="-4.5">-1</tspan><tspan dy="4.5">]</tspan></text>

<text x="180.0" y="14.4" text-anchor="end" class="lg">n<tspan class="sb" dy="3">pre</tspan><tspan dy="-3">=0</tspan></text>
<path d="M187.0,12.5H215.0" stroke="#9400d3" stroke-width="1.5"/>
<text x="180.0" y="26.6" text-anchor="end" class="lg">n<tspan class="sb" dy="3">pre</tspan><tspan dy="-3">=1e10 m</tspan><tspan class="sb" dy="-5">-3</tspan></text>
<path d="M187.0,23.2H215.0" stroke="#009e73" stroke-width="1.5"/>
<text x="180.0" y="37.4" text-anchor="end" class="lg">n<tspan class="sb" dy="3">pre</tspan><tspan dy="-3">=1e11 m</tspan><tspan class="sb" dy="-5">-3</tspan></text>
<path d="M187.0,34.0H215.0" stroke="#56b4e9" stroke-width="1.5"/>
<text x="180.0" y="48.2" text-anchor="end" class="lg">n<tspan class="sb" dy="3">pre</tspan><tspan dy="-3">=5e11 m</tspan><tspan class="sb" dy="-5">-3</tspan></text>
<path d="M187.0,44.8H215.0" stroke="#e69f00" stroke-width="1.5"/>
<text x="180.0" y="59.0" text-anchor="end" class="lg">n<tspan class="sb" dy="3">pre</tspan><tspan dy="-3">=1e12 m</tspan><tspan class="sb" dy="-5">-3</tspan></text>
<path d="M187.0,55.5H215.0" stroke="#f0e442" stroke-width="1.5"/>
<text x="180.0" y="69.8" text-anchor="end" class="lg">n<tspan class="sb" dy="3">pre</tspan><tspan dy="-3">=1e13 m</tspan><tspan class="sb" dy="-5">-3</tspan></text>
<path d="M187.0,66.2H215.0" stroke="#0072b2" stroke-width="1.5"/>
<text x="180.0" y="79.2" text-anchor="end" class="lg">n<tspan class="sb" dy="3">air</tspan><tspan dy="-3">=n</tspan><tspan class="sb" dy="3">0</tspan><tspan dy="-3">, n</tspan><tspan class="sb" dy="3">pre</tspan><tspan dy="-3">=0, E=E</tspan><tspan class="sb" dy="3">k</tspan></text>
<path d="M187.0,77.0H215.0" stroke="#d2d2d2" stroke-width="1.1"/>

<text x="509.0" y="14.4" text-anchor="end" class="lg">n<tspan class="sb" dy="3">pre</tspan><tspan dy="-3">=0</tspan></text>
<path d="M516.0,12.5H544.0" stroke="#9400d3" stroke-width="1.5"/>
<text x="509.0" y="26.6" text-anchor="end" class="lg">n<tspan class="sb" dy="3">pre</tspan><tspan dy="-3">=1e10 m</tspan><tspan class="sb" dy="-5">-3</tspan></text>
<path d="M516.0,23.2H544.0" stroke="#009e73" stroke-width="1.5"/>
<text x="509.0" y="37.4" text-anchor="end" class="lg">n<tspan class="sb" dy="3">pre</tspan><tspan dy="-3">=1e11 m</tspan><tspan class="sb" dy="-5">-3</tspan></text>
<path d="M516.0,34.0H544.0" stroke="#56b4e9" stroke-width="1.5"/>
<text x="509.0" y="48.2" text-anchor="end" class="lg">n<tspan class="sb" dy="3">pre</tspan><tspan dy="-3">=5e11 m</tspan><tspan class="sb" dy="-5">-3</tspan></text>
<path d="M516.0,44.8H544.0" stroke="#e69f00" stroke-width="1.5"/>
<text x="509.0" y="59.0" text-anchor="end" class="lg">n<tspan class="sb" dy="3">pre</tspan><tspan dy="-3">=1e12 m</tspan><tspan class="sb" dy="-5">-3</tspan></text>
<path d="M516.0,55.5H544.0" stroke="#f0e442" stroke-width="1.5"/>
<text x="509.0" y="69.8" text-anchor="end" class="lg">n<tspan class="sb" dy="3">pre</tspan><tspan dy="-3">=1e13 m</tspan><tspan class="sb" dy="-5">-3</tspan></text>
<path d="M516.0,66.2H544.0" stroke="#0072b2" stroke-width="1.5"/>
<text x="509.0" y="79.2" text-anchor="end" class="lg">n<tspan class="sb" dy="3">air</tspan><tspan dy="-3">=n</tspan><tspan class="sb" dy="3">0</tspan><tspan dy="-3">, n</tspan><tspan class="sb" dy="3">pre</tspan><tspan dy="-3">=0, E=E</tspan><tspan class="sb" dy="3">k</tspan></text>
<path d="M516.0,77.0H544.0" stroke="#d2d2d2" stroke-width="1.1"/>

<text x="122.5" y="239.5" class="cap">a</text><text x="132.0" y="239.5" class="cap">)</text><text x="144.5" y="239.5" class="cap mi">v</text><text x="153.5" y="242.3" class="cap mis">neg</text><text x="176.3" y="239.5" class="cap">(</text><text x="183.0" y="239.5" class="cap mi">t</text><text x="190.0" y="239.5" class="cap">)</text>
<text x="452.5" y="239.5" class="cap">b</text><text x="462.8" y="239.5" class="cap">)</text><text x="475.3" y="239.5" class="cap mi">v</text><text x="483.5" y="242.3" class="cap mis">pos</text><text x="505.4" y="239.5" class="cap">(</text><text x="511.6" y="239.5" class="cap mi">t</text><text x="518.2" y="239.5" class="cap">)</text>
</svg>
</body></html>
